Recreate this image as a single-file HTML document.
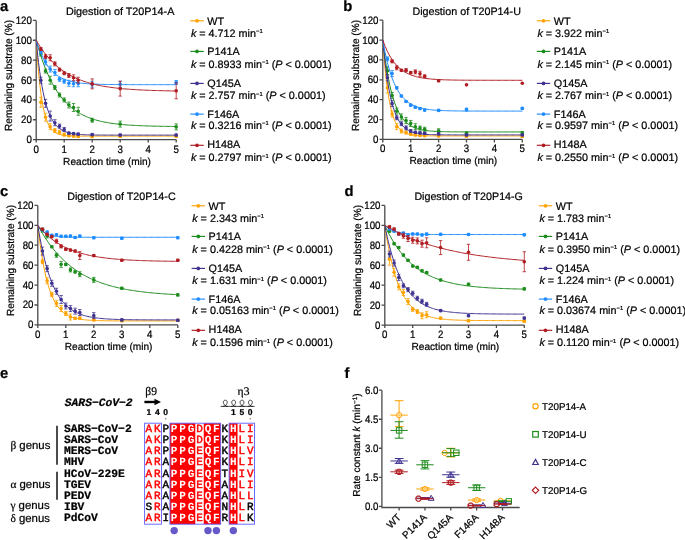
<!DOCTYPE html>
<html><head><meta charset="utf-8"><title>Figure</title>
<style>html,body{margin:0;padding:0;background:#fff;}svg{display:block;filter:blur(0.3px);}</style></head>
<body><svg width="685" height="540" viewBox="0 0 685 540" text-rendering="geometricPrecision">
<rect width="685" height="540" fill="#fff"/>
<text x="0" y="10.5" font-family='"Liberation Sans", sans-serif' font-size="14.8" text-anchor="start" font-weight="bold" font-style="normal" fill="#000" stroke="#000" stroke-width="0.22" >a</text>
<text x="65.9" y="14.9" font-family='"Liberation Sans", sans-serif' font-size="10.8" text-anchor="start" font-weight="normal" font-style="normal" fill="#000" stroke="#000" stroke-width="0.22" textLength="108.5" lengthAdjust="spacingAndGlyphs">Digestion of T20P14-A</text>
<path d="M36.2 20.4V139.6H176.2" fill="none" stroke="#4a4a4a" stroke-width="1.3"/>
<path d="M32.9 139.6H36.2M32.9 119.73H36.2M32.9 99.87H36.2M32.9 80H36.2M32.9 60.14H36.2M32.9 40.27H36.2M32.9 20.4H36.2M36.2 139.6V142.6M64.2 139.6V142.6M92.2 139.6V142.6M120.2 139.6V142.6M148.2 139.6V142.6M176.2 139.6V142.6" fill="none" stroke="#4a4a4a" stroke-width="1.3"/>
<text x="0" y="0" font-family='"Liberation Sans", sans-serif' font-size="10" text-anchor="end" font-weight="normal" font-style="normal" fill="#000" stroke="#000" stroke-width="0.22" transform="translate(31.9 143.1) scale(0.97 1.08)">0</text>
<text x="0" y="0" font-family='"Liberation Sans", sans-serif' font-size="10" text-anchor="end" font-weight="normal" font-style="normal" fill="#000" stroke="#000" stroke-width="0.22" transform="translate(31.9 123.23) scale(0.97 1.08)">20</text>
<text x="0" y="0" font-family='"Liberation Sans", sans-serif' font-size="10" text-anchor="end" font-weight="normal" font-style="normal" fill="#000" stroke="#000" stroke-width="0.22" transform="translate(31.9 103.37) scale(0.97 1.08)">40</text>
<text x="0" y="0" font-family='"Liberation Sans", sans-serif' font-size="10" text-anchor="end" font-weight="normal" font-style="normal" fill="#000" stroke="#000" stroke-width="0.22" transform="translate(31.9 83.5) scale(0.97 1.08)">60</text>
<text x="0" y="0" font-family='"Liberation Sans", sans-serif' font-size="10" text-anchor="end" font-weight="normal" font-style="normal" fill="#000" stroke="#000" stroke-width="0.22" transform="translate(31.9 63.64) scale(0.97 1.08)">80</text>
<text x="0" y="0" font-family='"Liberation Sans", sans-serif' font-size="10" text-anchor="end" font-weight="normal" font-style="normal" fill="#000" stroke="#000" stroke-width="0.22" transform="translate(31.9 43.77) scale(0.97 1.08)">100</text>
<text x="0" y="0" font-family='"Liberation Sans", sans-serif' font-size="10" text-anchor="end" font-weight="normal" font-style="normal" fill="#000" stroke="#000" stroke-width="0.22" transform="translate(31.9 23.9) scale(0.97 1.08)">120</text>
<text x="0" y="0" font-family='"Liberation Sans", sans-serif' font-size="10" text-anchor="middle" font-weight="normal" font-style="normal" fill="#000" stroke="#000" stroke-width="0.22" transform="translate(36.2 152.6) scale(0.97 1.08)">0</text>
<text x="0" y="0" font-family='"Liberation Sans", sans-serif' font-size="10" text-anchor="middle" font-weight="normal" font-style="normal" fill="#000" stroke="#000" stroke-width="0.22" transform="translate(64.2 152.6) scale(0.97 1.08)">1</text>
<text x="0" y="0" font-family='"Liberation Sans", sans-serif' font-size="10" text-anchor="middle" font-weight="normal" font-style="normal" fill="#000" stroke="#000" stroke-width="0.22" transform="translate(92.2 152.6) scale(0.97 1.08)">2</text>
<text x="0" y="0" font-family='"Liberation Sans", sans-serif' font-size="10" text-anchor="middle" font-weight="normal" font-style="normal" fill="#000" stroke="#000" stroke-width="0.22" transform="translate(120.2 152.6) scale(0.97 1.08)">3</text>
<text x="0" y="0" font-family='"Liberation Sans", sans-serif' font-size="10" text-anchor="middle" font-weight="normal" font-style="normal" fill="#000" stroke="#000" stroke-width="0.22" transform="translate(148.2 152.6) scale(0.97 1.08)">4</text>
<text x="0" y="0" font-family='"Liberation Sans", sans-serif' font-size="10" text-anchor="middle" font-weight="normal" font-style="normal" fill="#000" stroke="#000" stroke-width="0.22" transform="translate(176.2 152.6) scale(0.97 1.08)">5</text>
<text x="107" y="164.6" font-family='"Liberation Sans", sans-serif' font-size="10.3" text-anchor="middle" font-weight="normal" font-style="normal" fill="#000" stroke="#000" stroke-width="0.22" textLength="87.8" lengthAdjust="spacingAndGlyphs">Reaction time (min)</text>
<text x="12.3" y="75.5" font-family='"Liberation Sans", sans-serif' font-size="10.3" text-anchor="middle" font-weight="normal" font-style="normal" fill="#000" stroke="#000" stroke-width="0.22" transform="rotate(-90 12.3 75.5)" textLength="111" lengthAdjust="spacingAndGlyphs">Remaining substrate (%)</text>
<polyline points="36.2,40.27 37.37,57.65 38.53,71.87 39.7,83.52 40.87,93.05 42.03,100.86 43.2,107.25 44.37,112.49 45.53,116.77 46.7,120.28 47.87,123.15 49.03,125.5 50.2,127.43 51.37,129 52.53,130.29 53.7,131.35 54.87,132.22 56.03,132.92 57.2,133.5 58.37,133.98 59.53,134.37 60.7,134.69 61.87,134.95 63.03,135.16 64.2,135.33 65.37,135.48 66.53,135.59 67.7,135.69 68.87,135.77 70.03,135.83 71.2,135.89 72.37,135.93 73.53,135.96 74.7,135.99 75.87,136.02 77.03,136.04 78.2,136.05 79.37,136.06 80.53,136.08 81.7,136.08 82.87,136.09 84.03,136.1 85.2,136.1 86.37,136.11 87.53,136.11 88.7,136.11 89.87,136.11 91.03,136.12 92.2,136.12 93.37,136.12 94.53,136.12 95.7,136.12 96.87,136.12 98.03,136.12 99.2,136.12 100.37,136.12 101.53,136.12 102.7,136.12 103.87,136.12 105.03,136.12 106.2,136.12 107.37,136.12 108.53,136.12 109.7,136.12 110.87,136.12 112.03,136.12 113.2,136.12 114.37,136.12 115.53,136.12 116.7,136.12 117.87,136.12 119.03,136.12 120.2,136.12 121.37,136.12 122.53,136.12 123.7,136.12 124.87,136.12 126.03,136.12 127.2,136.12 128.37,136.12 129.53,136.12 130.7,136.12 131.87,136.12 133.03,136.12 134.2,136.12 135.37,136.12 136.53,136.12 137.7,136.12 138.87,136.12 140.03,136.12 141.2,136.12 142.37,136.12 143.53,136.12 144.7,136.12 145.87,136.12 147.03,136.12 148.2,136.12 149.37,136.12 150.53,136.12 151.7,136.12 152.87,136.12 154.03,136.12 155.2,136.12 156.37,136.12 157.53,136.12 158.7,136.12 159.87,136.12 161.03,136.12 162.2,136.12 163.37,136.12 164.53,136.12 165.7,136.12 166.87,136.12 168.03,136.12 169.2,136.12 170.37,136.12 171.53,136.12 172.7,136.12 173.87,136.12 175.03,136.12 176.2,136.12" fill="none" stroke="#FFA200" stroke-width="1"/>
<path d="M40.87 97.29V107.22M39.17 97.29H42.57M39.17 107.22H42.57M45.53 113.28V121.22M43.83 113.28H47.23M43.83 121.22H47.23M50.2 123.71V129.67M48.5 123.71H51.9M48.5 129.67H51.9M54.87 128.57V132.55M53.17 128.57H56.57M53.17 132.55H56.57M59.53 130.26V134.24M57.83 130.26H61.23M57.83 134.24H61.23M64.2 133.14V136.12M62.5 133.14H65.9M62.5 136.12H65.9M68.87 134.63V136.62M67.17 134.63H70.57M67.17 136.62H70.57M73.53 135.13V137.12M71.83 135.13H75.23M71.83 137.12H75.23M78.2 135.43V137.41M76.5 135.43H79.9M76.5 137.41H79.9M92.2 135.63V137.61M90.5 135.63H93.9M90.5 137.61H93.9M120.2 135.33V137.32M118.5 135.33H121.9M118.5 137.32H121.9M176.2 135.33V137.32M174.5 135.33H177.9M174.5 137.32H177.9" fill="none" stroke="#FFA200" stroke-width="0.8"/>
<g fill="#FFA200"><circle cx="40.87" cy="102.25" r="1.8"/><circle cx="45.53" cy="117.25" r="1.8"/><circle cx="50.2" cy="126.69" r="1.8"/><circle cx="54.87" cy="130.56" r="1.8"/><circle cx="59.53" cy="132.25" r="1.8"/><circle cx="64.2" cy="134.63" r="1.8"/><circle cx="68.87" cy="135.63" r="1.8"/><circle cx="73.53" cy="136.12" r="1.8"/><circle cx="78.2" cy="136.42" r="1.8"/><circle cx="92.2" cy="136.62" r="1.8"/><circle cx="120.2" cy="136.32" r="1.8"/><circle cx="176.2" cy="136.32" r="1.8"/></g>
<polyline points="36.2,40.27 37.37,44.48 38.53,48.49 39.7,52.31 40.87,55.93 42.03,59.39 43.2,62.67 44.37,65.79 45.53,68.76 46.7,71.59 47.87,74.27 49.03,76.83 50.2,79.26 51.37,81.57 52.53,83.77 53.7,85.87 54.87,87.86 56.03,89.75 57.2,91.55 58.37,93.27 59.53,94.9 60.7,96.45 61.87,97.92 63.03,99.32 64.2,100.66 65.37,101.93 66.53,103.14 67.7,104.28 68.87,105.38 70.03,106.42 71.2,107.4 72.37,108.35 73.53,109.24 74.7,110.09 75.87,110.9 77.03,111.67 78.2,112.4 79.37,113.1 80.53,113.76 81.7,114.39 82.87,114.99 84.03,115.56 85.2,116.1 86.37,116.62 87.53,117.11 88.7,117.58 89.87,118.02 91.03,118.45 92.2,118.85 93.37,119.23 94.53,119.59 95.7,119.94 96.87,120.27 98.03,120.58 99.2,120.88 100.37,121.16 101.53,121.43 102.7,121.69 103.87,121.93 105.03,122.16 106.2,122.38 107.37,122.59 108.53,122.79 109.7,122.98 110.87,123.16 112.03,123.34 113.2,123.5 114.37,123.66 115.53,123.8 116.7,123.94 117.87,124.08 119.03,124.2 120.2,124.33 121.37,124.44 122.53,124.55 123.7,124.65 124.87,124.75 126.03,124.85 127.2,124.94 128.37,125.02 129.53,125.1 130.7,125.18 131.87,125.25 133.03,125.32 134.2,125.39 135.37,125.45 136.53,125.51 137.7,125.57 138.87,125.63 140.03,125.68 141.2,125.73 142.37,125.77 143.53,125.82 144.7,125.86 145.87,125.9 147.03,125.94 148.2,125.98 149.37,126.01 150.53,126.04 151.7,126.07 152.87,126.1 154.03,126.13 155.2,126.16 156.37,126.19 157.53,126.21 158.7,126.23 159.87,126.26 161.03,126.28 162.2,126.3 163.37,126.32 164.53,126.33 165.7,126.35 166.87,126.37 168.03,126.38 169.2,126.4 170.37,126.41 171.53,126.43 172.7,126.44 173.87,126.45 175.03,126.46 176.2,126.47" fill="none" stroke="#1C8C1C" stroke-width="1"/>
<path d="M40.87 52.09V56.06M39.17 52.09H42.57M39.17 56.06H42.57M45.53 69.08V73.05M43.83 69.08H47.23M43.83 73.05H47.23M50.2 76.23V84.17M48.5 76.23H51.9M48.5 84.17H51.9M54.87 85.56V89.54M53.17 85.56H56.57M53.17 89.54H56.57M59.53 93.01V96.99M57.83 93.01H61.23M57.83 96.99H61.23M64.2 97.98V101.95M62.5 97.98H65.9M62.5 101.95H65.9M68.87 102.05V108.01M67.17 102.05H70.57M67.17 108.01H70.57M73.53 103.54V111.49M71.83 103.54H75.23M71.83 111.49H75.23M78.2 107.32V115.26M76.5 107.32H79.9M76.5 115.26H79.9M92.2 118.24V122.22M90.5 118.24H93.9M90.5 122.22H93.9M120.2 121.12V127.08M118.5 121.12H121.9M118.5 127.08H121.9M176.2 123.91V129.87M174.5 123.91H177.9M174.5 129.87H177.9" fill="none" stroke="#1C8C1C" stroke-width="0.8"/>
<g fill="#1C8C1C"><circle cx="40.87" cy="54.08" r="1.8"/><circle cx="45.53" cy="71.06" r="1.8"/><circle cx="50.2" cy="80.2" r="1.8"/><circle cx="54.87" cy="87.55" r="1.8"/><circle cx="59.53" cy="95" r="1.8"/><circle cx="64.2" cy="99.97" r="1.8"/><circle cx="68.87" cy="105.03" r="1.8"/><circle cx="73.53" cy="107.52" r="1.8"/><circle cx="78.2" cy="111.29" r="1.8"/><circle cx="92.2" cy="120.23" r="1.8"/><circle cx="120.2" cy="124.1" r="1.8"/><circle cx="176.2" cy="126.89" r="1.8"/></g>
<polyline points="36.2,40.27 37.37,52.11 38.53,62.47 39.7,71.54 40.87,79.48 42.03,86.43 43.2,92.51 44.37,97.83 45.53,102.48 46.7,106.56 47.87,110.13 49.03,113.25 50.2,115.98 51.37,118.37 52.53,120.46 53.7,122.29 54.87,123.89 56.03,125.3 57.2,126.52 58.37,127.6 59.53,128.54 60.7,129.36 61.87,130.08 63.03,130.71 64.2,131.26 65.37,131.75 66.53,132.17 67.7,132.54 68.87,132.86 70.03,133.14 71.2,133.39 72.37,133.61 73.53,133.8 74.7,133.97 75.87,134.11 77.03,134.24 78.2,134.35 79.37,134.45 80.53,134.53 81.7,134.61 82.87,134.67 84.03,134.73 85.2,134.78 86.37,134.82 87.53,134.86 88.7,134.9 89.87,134.92 91.03,134.95 92.2,134.97 93.37,134.99 94.53,135.01 95.7,135.02 96.87,135.04 98.03,135.05 99.2,135.06 100.37,135.07 101.53,135.08 102.7,135.08 103.87,135.09 105.03,135.09 106.2,135.1 107.37,135.1 108.53,135.11 109.7,135.11 110.87,135.11 112.03,135.11 113.2,135.12 114.37,135.12 115.53,135.12 116.7,135.12 117.87,135.12 119.03,135.12 120.2,135.12 121.37,135.12 122.53,135.13 123.7,135.13 124.87,135.13 126.03,135.13 127.2,135.13 128.37,135.13 129.53,135.13 130.7,135.13 131.87,135.13 133.03,135.13 134.2,135.13 135.37,135.13 136.53,135.13 137.7,135.13 138.87,135.13 140.03,135.13 141.2,135.13 142.37,135.13 143.53,135.13 144.7,135.13 145.87,135.13 147.03,135.13 148.2,135.13 149.37,135.13 150.53,135.13 151.7,135.13 152.87,135.13 154.03,135.13 155.2,135.13 156.37,135.13 157.53,135.13 158.7,135.13 159.87,135.13 161.03,135.13 162.2,135.13 163.37,135.13 164.53,135.13 165.7,135.13 166.87,135.13 168.03,135.13 169.2,135.13 170.37,135.13 171.53,135.13 172.7,135.13 173.87,135.13 175.03,135.13 176.2,135.13" fill="none" stroke="#3F3391" stroke-width="1"/>
<path d="M40.87 77.22V83.18M39.17 77.22H42.57M39.17 83.18H42.57M45.53 99.37V107.32M43.83 99.37H47.23M43.83 107.32H47.23M50.2 111.09V121.03M48.5 111.09H51.9M48.5 121.03H51.9M54.87 119.73V125.69M53.17 119.73H56.57M53.17 125.69H56.57M59.53 124.1V128.08M57.83 124.1H61.23M57.83 128.08H61.23M64.2 127.48V131.45M62.5 127.48H65.9M62.5 131.45H65.9M68.87 132.15V134.14M67.17 132.15H70.57M67.17 134.14H70.57M73.53 132.65V134.63M71.83 132.65H75.23M71.83 134.63H75.23M78.2 133.14V135.13M76.5 133.14H79.9M76.5 135.13H79.9M92.2 133.64V135.63M90.5 133.64H93.9M90.5 135.63H93.9M120.2 134.04V136.02M118.5 134.04H121.9M118.5 136.02H121.9M176.2 134.04V136.02M174.5 134.04H177.9M174.5 136.02H177.9" fill="none" stroke="#3F3391" stroke-width="0.8"/>
<g fill="#3F3391"><circle cx="40.87" cy="80.2" r="1.8"/><circle cx="45.53" cy="103.34" r="1.8"/><circle cx="50.2" cy="116.06" r="1.8"/><circle cx="54.87" cy="122.71" r="1.8"/><circle cx="59.53" cy="126.09" r="1.8"/><circle cx="64.2" cy="129.47" r="1.8"/><circle cx="68.87" cy="133.14" r="1.8"/><circle cx="73.53" cy="133.64" r="1.8"/><circle cx="78.2" cy="134.14" r="1.8"/><circle cx="92.2" cy="134.63" r="1.8"/><circle cx="120.2" cy="135.03" r="1.8"/><circle cx="176.2" cy="135.03" r="1.8"/></g>
<polyline points="36.2,40.27 37.37,43.99 38.53,47.4 39.7,50.52 40.87,53.38 42.03,56 43.2,58.41 44.37,60.61 45.53,62.62 46.7,64.47 47.87,66.16 49.03,67.71 50.2,69.13 51.37,70.43 52.53,71.63 53.7,72.72 54.87,73.72 56.03,74.64 57.2,75.48 58.37,76.25 59.53,76.95 60.7,77.6 61.87,78.19 63.03,78.74 64.2,79.23 65.37,79.69 66.53,80.11 67.7,80.49 68.87,80.84 70.03,81.16 71.2,81.45 72.37,81.72 73.53,81.97 74.7,82.2 75.87,82.4 77.03,82.59 78.2,82.77 79.37,82.93 80.53,83.07 81.7,83.21 82.87,83.33 84.03,83.44 85.2,83.54 86.37,83.64 87.53,83.73 88.7,83.8 89.87,83.88 91.03,83.94 92.2,84 93.37,84.06 94.53,84.11 95.7,84.16 96.87,84.2 98.03,84.24 99.2,84.28 100.37,84.31 101.53,84.34 102.7,84.37 103.87,84.39 105.03,84.42 106.2,84.44 107.37,84.46 108.53,84.47 109.7,84.49 110.87,84.51 112.03,84.52 113.2,84.53 114.37,84.54 115.53,84.55 116.7,84.56 117.87,84.57 119.03,84.58 120.2,84.59 121.37,84.6 122.53,84.6 123.7,84.61 124.87,84.61 126.03,84.62 127.2,84.62 128.37,84.63 129.53,84.63 130.7,84.63 131.87,84.64 133.03,84.64 134.2,84.64 135.37,84.64 136.53,84.65 137.7,84.65 138.87,84.65 140.03,84.65 141.2,84.65 142.37,84.66 143.53,84.66 144.7,84.66 145.87,84.66 147.03,84.66 148.2,84.66 149.37,84.66 150.53,84.66 151.7,84.66 152.87,84.66 154.03,84.66 155.2,84.66 156.37,84.67 157.53,84.67 158.7,84.67 159.87,84.67 161.03,84.67 162.2,84.67 163.37,84.67 164.53,84.67 165.7,84.67 166.87,84.67 168.03,84.67 169.2,84.67 170.37,84.67 171.53,84.67 172.7,84.67 173.87,84.67 175.03,84.67 176.2,84.67" fill="none" stroke="#1E8CFF" stroke-width="1"/>
<path d="M40.87 49.61V53.58M39.17 49.61H42.57M39.17 53.58H42.57M45.53 58.94V64.9M43.83 58.94H47.23M43.83 64.9H47.23M50.2 66.1V72.06M48.5 66.1H51.9M48.5 72.06H51.9M54.87 69.47V75.43M53.17 69.47H56.57M53.17 75.43H56.57M59.53 77.32V81.29M57.83 77.32H61.23M57.83 81.29H61.23M64.2 79.31V83.28M62.5 79.31H65.9M62.5 83.28H65.9M68.87 80.3V86.26M67.17 80.3H70.57M67.17 86.26H70.57M73.53 80.8V86.76M71.83 80.8H75.23M71.83 86.76H75.23M78.2 80.8V86.76M76.5 80.8H79.9M76.5 86.76H79.9M92.2 81.29V87.25M90.5 81.29H93.9M90.5 87.25H93.9M120.2 81.29V87.25M118.5 81.29H121.9M118.5 87.25H121.9M176.2 80.5V84.47M174.5 80.5H177.9M174.5 84.47H177.9" fill="none" stroke="#1E8CFF" stroke-width="0.8"/>
<g fill="#1E8CFF"><circle cx="40.87" cy="51.59" r="1.8"/><circle cx="45.53" cy="61.92" r="1.8"/><circle cx="50.2" cy="69.08" r="1.8"/><circle cx="54.87" cy="72.45" r="1.8"/><circle cx="59.53" cy="79.31" r="1.8"/><circle cx="64.2" cy="81.29" r="1.8"/><circle cx="68.87" cy="83.28" r="1.8"/><circle cx="73.53" cy="83.78" r="1.8"/><circle cx="78.2" cy="83.78" r="1.8"/><circle cx="92.2" cy="84.27" r="1.8"/><circle cx="120.2" cy="84.27" r="1.8"/><circle cx="176.2" cy="82.49" r="1.8"/></g>
<polyline points="36.2,40.27 37.37,42.26 38.53,44.16 39.7,46 40.87,47.76 42.03,49.46 43.2,51.08 44.37,52.65 45.53,54.15 46.7,55.6 47.87,56.99 49.03,58.33 50.2,59.61 51.37,60.85 52.53,62.03 53.7,63.17 54.87,64.27 56.03,65.32 57.2,66.34 58.37,67.31 59.53,68.25 60.7,69.15 61.87,70.01 63.03,70.84 64.2,71.64 65.37,72.41 66.53,73.15 67.7,73.86 68.87,74.54 70.03,75.19 71.2,75.82 72.37,76.43 73.53,77.01 74.7,77.57 75.87,78.11 77.03,78.62 78.2,79.12 79.37,79.6 80.53,80.06 81.7,80.5 82.87,80.92 84.03,81.33 85.2,81.72 86.37,82.1 87.53,82.46 88.7,82.81 89.87,83.14 91.03,83.46 92.2,83.77 93.37,84.07 94.53,84.36 95.7,84.63 96.87,84.89 98.03,85.15 99.2,85.39 100.37,85.63 101.53,85.85 102.7,86.07 103.87,86.27 105.03,86.47 106.2,86.67 107.37,86.85 108.53,87.03 109.7,87.2 110.87,87.36 112.03,87.52 113.2,87.67 114.37,87.82 115.53,87.96 116.7,88.09 117.87,88.22 119.03,88.35 120.2,88.47 121.37,88.58 122.53,88.69 123.7,88.8 124.87,88.9 126.03,89 127.2,89.09 128.37,89.18 129.53,89.27 130.7,89.35 131.87,89.43 133.03,89.51 134.2,89.58 135.37,89.66 136.53,89.72 137.7,89.79 138.87,89.85 140.03,89.92 141.2,89.97 142.37,90.03 143.53,90.08 144.7,90.14 145.87,90.19 147.03,90.23 148.2,90.28 149.37,90.32 150.53,90.37 151.7,90.41 152.87,90.45 154.03,90.49 155.2,90.52 156.37,90.56 157.53,90.59 158.7,90.62 159.87,90.65 161.03,90.68 162.2,90.71 163.37,90.74 164.53,90.77 165.7,90.79 166.87,90.82 168.03,90.84 169.2,90.86 170.37,90.89 171.53,90.91 172.7,90.93 173.87,90.95 175.03,90.96 176.2,90.98" fill="none" stroke="#B01C22" stroke-width="1"/>
<path d="M40.87 47.62V50.6M39.17 47.62H42.57M39.17 50.6H42.57M45.53 54.67V58.65M43.83 54.67H47.23M43.83 58.65H47.23M50.2 54.77V60.73M48.5 54.77H51.9M48.5 60.73H51.9M54.87 61.82V65.8M53.17 61.82H56.57M53.17 65.8H56.57M59.53 68.18V71.16M57.83 68.18H61.23M57.83 71.16H61.23M64.2 71.76V74.74M62.5 71.76H65.9M62.5 74.74H65.9M68.87 73.55V77.52M67.17 73.55H70.57M67.17 77.52H70.57M73.53 74.84V80.8M71.83 74.84H75.23M71.83 80.8H75.23M78.2 77.22V83.18M76.5 77.22H79.9M76.5 83.18H79.9M92.2 78.91V88.84M90.5 78.91H93.9M90.5 88.84H93.9M120.2 81.19V96.09M118.5 81.19H121.9M118.5 96.09H121.9M176.2 82.88V98.78M174.5 82.88H177.9M174.5 98.78H177.9" fill="none" stroke="#B01C22" stroke-width="0.8"/>
<g fill="#B01C22"><circle cx="40.87" cy="49.11" r="1.8"/><circle cx="45.53" cy="56.66" r="1.8"/><circle cx="50.2" cy="57.75" r="1.8"/><circle cx="54.87" cy="63.81" r="1.8"/><circle cx="59.53" cy="69.67" r="1.8"/><circle cx="64.2" cy="73.25" r="1.8"/><circle cx="68.87" cy="75.53" r="1.8"/><circle cx="73.53" cy="77.82" r="1.8"/><circle cx="78.2" cy="80.2" r="1.8"/><circle cx="92.2" cy="83.88" r="1.8"/><circle cx="120.2" cy="88.64" r="1.8"/><circle cx="176.2" cy="90.83" r="1.8"/></g>
<path d="M190.3 20.8H203.7" stroke="#FFA200" stroke-width="1.15"/>
<circle cx="197" cy="20.8" r="1.85" fill="#FFA200"/>
<text x="207.3" y="24.6" font-family='"Liberation Sans", sans-serif' font-size="10.8" text-anchor="start" font-weight="normal" font-style="normal" fill="#000" stroke="#000" stroke-width="0.22" >WT</text>
<text x="190.9" y="36.6" font-family='"Liberation Sans", sans-serif' font-size="10.8" text-anchor="start" font-weight="normal" font-style="normal" fill="#000" stroke="#000" stroke-width="0.22" ><tspan font-style="italic">k</tspan> = 4.712 min<tspan font-size="5.8" dy="-3.7">−1</tspan></text>
<path d="M190.3 51.4H203.7" stroke="#1C8C1C" stroke-width="1.15"/>
<circle cx="197" cy="51.4" r="1.85" fill="#1C8C1C"/>
<text x="207.3" y="54.8" font-family='"Liberation Sans", sans-serif' font-size="10.8" text-anchor="start" font-weight="normal" font-style="normal" fill="#000" stroke="#000" stroke-width="0.22" >P141A</text>
<text x="190.9" y="67.6" font-family='"Liberation Sans", sans-serif' font-size="10.8" text-anchor="start" font-weight="normal" font-style="normal" fill="#000" stroke="#000" stroke-width="0.22" ><tspan font-style="italic">k</tspan> = 0.8933 min<tspan font-size="5.8" dy="-3.7">−1</tspan><tspan dy="3.7" dx="3.1">(</tspan><tspan font-style="italic">P</tspan> &lt; 0.0001)</text>
<path d="M190.3 83.4H203.7" stroke="#3F3391" stroke-width="1.15"/>
<circle cx="197" cy="83.4" r="1.85" fill="#3F3391"/>
<text x="207.3" y="86.7" font-family='"Liberation Sans", sans-serif' font-size="10.8" text-anchor="start" font-weight="normal" font-style="normal" fill="#000" stroke="#000" stroke-width="0.22" >Q145A</text>
<text x="190.9" y="99.4" font-family='"Liberation Sans", sans-serif' font-size="10.8" text-anchor="start" font-weight="normal" font-style="normal" fill="#000" stroke="#000" stroke-width="0.22" ><tspan font-style="italic">k</tspan> = 2.757 min<tspan font-size="5.8" dy="-3.7">−1</tspan><tspan dy="3.7" dx="3.1">(</tspan><tspan font-style="italic">P</tspan> &lt; 0.0001)</text>
<path d="M190.3 114.1H203.7" stroke="#1E8CFF" stroke-width="1.15"/>
<circle cx="197" cy="114.1" r="1.85" fill="#1E8CFF"/>
<text x="207.3" y="117.8" font-family='"Liberation Sans", sans-serif' font-size="10.8" text-anchor="start" font-weight="normal" font-style="normal" fill="#000" stroke="#000" stroke-width="0.22" >F146A</text>
<text x="190.9" y="128.7" font-family='"Liberation Sans", sans-serif' font-size="10.8" text-anchor="start" font-weight="normal" font-style="normal" fill="#000" stroke="#000" stroke-width="0.22" ><tspan font-style="italic">k</tspan> = 0.3216 min<tspan font-size="5.8" dy="-3.7">−1</tspan><tspan dy="3.7" dx="3.1">(</tspan><tspan font-style="italic">P</tspan> &lt; 0.0001)</text>
<path d="M190.3 145.3H203.7" stroke="#B01C22" stroke-width="1.15"/>
<circle cx="197" cy="145.3" r="1.85" fill="#B01C22"/>
<text x="207.3" y="147.9" font-family='"Liberation Sans", sans-serif' font-size="10.8" text-anchor="start" font-weight="normal" font-style="normal" fill="#000" stroke="#000" stroke-width="0.22" >H148A</text>
<text x="190.9" y="161.2" font-family='"Liberation Sans", sans-serif' font-size="10.8" text-anchor="start" font-weight="normal" font-style="normal" fill="#000" stroke="#000" stroke-width="0.22" ><tspan font-style="italic">k</tspan> = 0.2797 min<tspan font-size="5.8" dy="-3.7">−1</tspan><tspan dy="3.7" dx="3.1">(</tspan><tspan font-style="italic">P</tspan> &lt; 0.0001)</text>
<text x="343.2" y="10.6" font-family='"Liberation Sans", sans-serif' font-size="14.8" text-anchor="start" font-weight="bold" font-style="normal" fill="#000" stroke="#000" stroke-width="0.22" >b</text>
<text x="412.4" y="14.9" font-family='"Liberation Sans", sans-serif' font-size="10.8" text-anchor="start" font-weight="normal" font-style="normal" fill="#000" stroke="#000" stroke-width="0.22" textLength="108.5" lengthAdjust="spacingAndGlyphs">Digestion of T20P14-U</text>
<path d="M382.8 20.2V139.4H522.3" fill="none" stroke="#4a4a4a" stroke-width="1.3"/>
<path d="M379.5 139.4H382.8M379.5 119.53H382.8M379.5 99.67H382.8M379.5 79.8H382.8M379.5 59.94H382.8M379.5 40.07H382.8M379.5 20.2H382.8M382.8 139.4V142.4M410.7 139.4V142.4M438.6 139.4V142.4M466.5 139.4V142.4M494.4 139.4V142.4M522.3 139.4V142.4" fill="none" stroke="#4a4a4a" stroke-width="1.3"/>
<text x="0" y="0" font-family='"Liberation Sans", sans-serif' font-size="10" text-anchor="end" font-weight="normal" font-style="normal" fill="#000" stroke="#000" stroke-width="0.22" transform="translate(378.5 142.9) scale(0.97 1.08)">0</text>
<text x="0" y="0" font-family='"Liberation Sans", sans-serif' font-size="10" text-anchor="end" font-weight="normal" font-style="normal" fill="#000" stroke="#000" stroke-width="0.22" transform="translate(378.5 123.03) scale(0.97 1.08)">20</text>
<text x="0" y="0" font-family='"Liberation Sans", sans-serif' font-size="10" text-anchor="end" font-weight="normal" font-style="normal" fill="#000" stroke="#000" stroke-width="0.22" transform="translate(378.5 103.17) scale(0.97 1.08)">40</text>
<text x="0" y="0" font-family='"Liberation Sans", sans-serif' font-size="10" text-anchor="end" font-weight="normal" font-style="normal" fill="#000" stroke="#000" stroke-width="0.22" transform="translate(378.5 83.3) scale(0.97 1.08)">60</text>
<text x="0" y="0" font-family='"Liberation Sans", sans-serif' font-size="10" text-anchor="end" font-weight="normal" font-style="normal" fill="#000" stroke="#000" stroke-width="0.22" transform="translate(378.5 63.44) scale(0.97 1.08)">80</text>
<text x="0" y="0" font-family='"Liberation Sans", sans-serif' font-size="10" text-anchor="end" font-weight="normal" font-style="normal" fill="#000" stroke="#000" stroke-width="0.22" transform="translate(378.5 43.57) scale(0.97 1.08)">100</text>
<text x="0" y="0" font-family='"Liberation Sans", sans-serif' font-size="10" text-anchor="end" font-weight="normal" font-style="normal" fill="#000" stroke="#000" stroke-width="0.22" transform="translate(378.5 23.7) scale(0.97 1.08)">120</text>
<text x="0" y="0" font-family='"Liberation Sans", sans-serif' font-size="10" text-anchor="middle" font-weight="normal" font-style="normal" fill="#000" stroke="#000" stroke-width="0.22" transform="translate(382.8 152.4) scale(0.97 1.08)">0</text>
<text x="0" y="0" font-family='"Liberation Sans", sans-serif' font-size="10" text-anchor="middle" font-weight="normal" font-style="normal" fill="#000" stroke="#000" stroke-width="0.22" transform="translate(410.7 152.4) scale(0.97 1.08)">1</text>
<text x="0" y="0" font-family='"Liberation Sans", sans-serif' font-size="10" text-anchor="middle" font-weight="normal" font-style="normal" fill="#000" stroke="#000" stroke-width="0.22" transform="translate(438.6 152.4) scale(0.97 1.08)">2</text>
<text x="0" y="0" font-family='"Liberation Sans", sans-serif' font-size="10" text-anchor="middle" font-weight="normal" font-style="normal" fill="#000" stroke="#000" stroke-width="0.22" transform="translate(466.5 152.4) scale(0.97 1.08)">3</text>
<text x="0" y="0" font-family='"Liberation Sans", sans-serif' font-size="10" text-anchor="middle" font-weight="normal" font-style="normal" fill="#000" stroke="#000" stroke-width="0.22" transform="translate(494.4 152.4) scale(0.97 1.08)">4</text>
<text x="0" y="0" font-family='"Liberation Sans", sans-serif' font-size="10" text-anchor="middle" font-weight="normal" font-style="normal" fill="#000" stroke="#000" stroke-width="0.22" transform="translate(522.3 152.4) scale(0.97 1.08)">5</text>
<text x="453.35" y="164.4" font-family='"Liberation Sans", sans-serif' font-size="10.3" text-anchor="middle" font-weight="normal" font-style="normal" fill="#000" stroke="#000" stroke-width="0.22" textLength="87.8" lengthAdjust="spacingAndGlyphs">Reaction time (min)</text>
<text x="358.8" y="75.5" font-family='"Liberation Sans", sans-serif' font-size="10.3" text-anchor="middle" font-weight="normal" font-style="normal" fill="#000" stroke="#000" stroke-width="0.22" transform="rotate(-90 358.8 75.5)" textLength="111" lengthAdjust="spacingAndGlyphs">Remaining substrate (%)</text>
<polyline points="382.8,40.07 383.96,55.79 385.12,68.94 386.29,79.93 387.45,89.11 388.61,96.79 389.78,103.21 390.94,108.58 392.1,113.06 393.26,116.81 394.43,119.95 395.59,122.57 396.75,124.76 397.91,126.59 399.07,128.12 400.24,129.4 401.4,130.47 402.56,131.36 403.73,132.11 404.89,132.74 406.05,133.26 407.21,133.7 408.38,134.06 409.54,134.37 410.7,134.62 411.86,134.84 413.03,135.01 414.19,135.16 415.35,135.29 416.51,135.39 417.68,135.48 418.84,135.55 420,135.61 421.16,135.66 422.32,135.71 423.49,135.74 424.65,135.77 425.81,135.8 426.98,135.82 428.14,135.83 429.3,135.85 430.46,135.86 431.62,135.87 432.79,135.88 433.95,135.89 435.11,135.89 436.28,135.9 437.44,135.9 438.6,135.91 439.76,135.91 440.93,135.91 442.09,135.91 443.25,135.91 444.41,135.92 445.57,135.92 446.74,135.92 447.9,135.92 449.06,135.92 450.23,135.92 451.39,135.92 452.55,135.92 453.71,135.92 454.88,135.92 456.04,135.92 457.2,135.92 458.36,135.92 459.52,135.92 460.69,135.92 461.85,135.92 463.01,135.92 464.18,135.92 465.34,135.92 466.5,135.92 467.66,135.92 468.83,135.92 469.99,135.92 471.15,135.92 472.31,135.92 473.48,135.92 474.64,135.92 475.8,135.92 476.96,135.92 478.12,135.92 479.29,135.92 480.45,135.92 481.61,135.92 482.77,135.92 483.94,135.92 485.1,135.92 486.26,135.92 487.43,135.92 488.59,135.92 489.75,135.92 490.91,135.92 492.07,135.92 493.24,135.92 494.4,135.92 495.56,135.92 496.73,135.92 497.89,135.92 499.05,135.92 500.21,135.92 501.38,135.92 502.54,135.92 503.7,135.92 504.86,135.92 506.03,135.92 507.19,135.92 508.35,135.92 509.51,135.92 510.68,135.92 511.84,135.92 513,135.92 514.16,135.92 515.33,135.92 516.49,135.92 517.65,135.92 518.81,135.92 519.98,135.92 521.14,135.92 522.3,135.92" fill="none" stroke="#FFA200" stroke-width="1"/>
<path d="M387.45 83.08V93.01M385.75 83.08H389.15M385.75 93.01H389.15M392.1 111.09V117.05M390.4 111.09H393.8M390.4 117.05H393.8M396.75 123.71V129.67M395.05 123.71H398.45M395.05 129.67H398.45M401.4 129.07V133.04M399.7 129.07H403.1M399.7 133.04H403.1M406.05 131.06V134.04M404.35 131.06H407.75M404.35 134.04H407.75M410.7 133.14V135.13M409 133.14H412.4M409 135.13H412.4M415.35 133.94V135.92M413.65 133.94H417.05M413.65 135.92H417.05M420 134.43V136.42M418.3 134.43H421.7M418.3 136.42H421.7M424.65 134.63V136.62M422.95 134.63H426.35M422.95 136.62H426.35M438.6 134.93V136.92M436.9 134.93H440.3M436.9 136.92H440.3M466.5 135.33V137.31M464.8 135.33H468.2M464.8 137.31H468.2M522.3 135.43V137.41M520.6 135.43H524M520.6 137.41H524" fill="none" stroke="#FFA200" stroke-width="0.8"/>
<g fill="#FFA200"><circle cx="387.45" cy="88.05" r="1.8"/><circle cx="392.1" cy="114.07" r="1.8"/><circle cx="396.75" cy="126.69" r="1.8"/><circle cx="401.4" cy="131.06" r="1.8"/><circle cx="406.05" cy="132.55" r="1.8"/><circle cx="410.7" cy="134.14" r="1.8"/><circle cx="415.35" cy="134.93" r="1.8"/><circle cx="420" cy="135.43" r="1.8"/><circle cx="424.65" cy="135.63" r="1.8"/><circle cx="438.6" cy="135.92" r="1.8"/><circle cx="466.5" cy="136.32" r="1.8"/><circle cx="522.3" cy="136.42" r="1.8"/></g>
<polyline points="382.8,40.07 383.96,49.85 385.12,58.58 386.29,66.39 387.45,73.36 388.61,79.6 389.78,85.17 390.94,90.15 392.1,94.59 393.26,98.57 394.43,102.12 395.59,105.3 396.75,108.13 397.91,110.67 399.07,112.93 400.24,114.95 401.4,116.76 402.56,118.38 403.73,119.82 404.89,121.11 406.05,122.27 407.21,123.3 408.38,124.22 409.54,125.04 410.7,125.78 411.86,126.43 413.03,127.02 414.19,127.54 415.35,128.01 416.51,128.43 417.68,128.81 418.84,129.14 420,129.44 421.16,129.71 422.32,129.95 423.49,130.16 424.65,130.35 425.81,130.52 426.98,130.67 428.14,130.81 429.3,130.93 430.46,131.04 431.62,131.14 432.79,131.22 433.95,131.3 435.11,131.37 436.28,131.43 437.44,131.49 438.6,131.54 439.76,131.58 440.93,131.62 442.09,131.65 443.25,131.69 444.41,131.71 445.57,131.74 446.74,131.76 447.9,131.78 449.06,131.8 450.23,131.82 451.39,131.83 452.55,131.84 453.71,131.85 454.88,131.86 456.04,131.87 457.2,131.88 458.36,131.89 459.52,131.9 460.69,131.9 461.85,131.91 463.01,131.91 464.18,131.92 465.34,131.92 466.5,131.92 467.66,131.93 468.83,131.93 469.99,131.93 471.15,131.93 472.31,131.93 473.48,131.94 474.64,131.94 475.8,131.94 476.96,131.94 478.12,131.94 479.29,131.94 480.45,131.94 481.61,131.94 482.77,131.94 483.94,131.95 485.1,131.95 486.26,131.95 487.43,131.95 488.59,131.95 489.75,131.95 490.91,131.95 492.07,131.95 493.24,131.95 494.4,131.95 495.56,131.95 496.73,131.95 497.89,131.95 499.05,131.95 500.21,131.95 501.38,131.95 502.54,131.95 503.7,131.95 504.86,131.95 506.03,131.95 507.19,131.95 508.35,131.95 509.51,131.95 510.68,131.95 511.84,131.95 513,131.95 514.16,131.95 515.33,131.95 516.49,131.95 517.65,131.95 518.81,131.95 519.98,131.95 521.14,131.95 522.3,131.95" fill="none" stroke="#1C8C1C" stroke-width="1"/>
<path d="M387.45 66.79V74.74M385.75 66.79H389.15M385.75 74.74H389.15M392.1 92.52V98.48M390.4 92.52H393.8M390.4 98.48H393.8M396.75 108.11V114.07M395.05 108.11H398.45M395.05 114.07H398.45M401.4 113.97V119.93M399.7 113.97H403.1M399.7 119.93H403.1M406.05 117.65V123.61M404.35 117.65H407.75M404.35 123.61H407.75M410.7 120.43V126.39M409 120.43H412.4M409 126.39H412.4M415.35 123.71V129.67M413.65 123.71H417.05M413.65 129.67H417.05M420 126.09V130.06M418.3 126.09H421.7M418.3 130.06H421.7M424.65 127.28V131.25M422.95 127.28H426.35M422.95 131.25H426.35M438.6 128.77V132.74M436.9 128.77H440.3M436.9 132.74H440.3M466.5 131.85V134.83M464.8 131.85H468.2M464.8 134.83H468.2M522.3 131.55V134.53M520.6 131.55H524M520.6 134.53H524" fill="none" stroke="#1C8C1C" stroke-width="0.8"/>
<g fill="#1C8C1C"><circle cx="387.45" cy="70.76" r="1.8"/><circle cx="392.1" cy="95.5" r="1.8"/><circle cx="396.75" cy="111.09" r="1.8"/><circle cx="401.4" cy="116.95" r="1.8"/><circle cx="406.05" cy="120.63" r="1.8"/><circle cx="410.7" cy="123.41" r="1.8"/><circle cx="415.35" cy="126.69" r="1.8"/><circle cx="420" cy="128.08" r="1.8"/><circle cx="424.65" cy="129.27" r="1.8"/><circle cx="438.6" cy="130.76" r="1.8"/><circle cx="466.5" cy="133.34" r="1.8"/><circle cx="522.3" cy="133.04" r="1.8"/></g>
<polyline points="382.8,40.07 383.96,52.26 385.12,62.88 386.29,72.13 387.45,80.2 388.61,87.23 389.78,93.36 390.94,98.7 392.1,103.35 393.26,107.41 394.43,110.95 395.59,114.03 396.75,116.71 397.91,119.05 399.07,121.09 400.24,122.87 401.4,124.42 402.56,125.77 403.73,126.95 404.89,127.97 406.05,128.87 407.21,129.64 408.38,130.32 409.54,130.92 410.7,131.43 411.86,131.88 413.03,132.27 414.19,132.61 415.35,132.91 416.51,133.17 417.68,133.4 418.84,133.59 420,133.77 421.16,133.92 422.32,134.05 423.49,134.16 424.65,134.26 425.81,134.34 426.98,134.42 428.14,134.49 429.3,134.54 430.46,134.59 431.62,134.64 432.79,134.67 433.95,134.71 435.11,134.74 436.28,134.76 437.44,134.78 438.6,134.8 439.76,134.82 440.93,134.83 442.09,134.84 443.25,134.86 444.41,134.87 445.57,134.87 446.74,134.88 447.9,134.89 449.06,134.89 450.23,134.9 451.39,134.9 452.55,134.91 453.71,134.91 454.88,134.91 456.04,134.91 457.2,134.92 458.36,134.92 459.52,134.92 460.69,134.92 461.85,134.92 463.01,134.92 464.18,134.92 465.34,134.92 466.5,134.93 467.66,134.93 468.83,134.93 469.99,134.93 471.15,134.93 472.31,134.93 473.48,134.93 474.64,134.93 475.8,134.93 476.96,134.93 478.12,134.93 479.29,134.93 480.45,134.93 481.61,134.93 482.77,134.93 483.94,134.93 485.1,134.93 486.26,134.93 487.43,134.93 488.59,134.93 489.75,134.93 490.91,134.93 492.07,134.93 493.24,134.93 494.4,134.93 495.56,134.93 496.73,134.93 497.89,134.93 499.05,134.93 500.21,134.93 501.38,134.93 502.54,134.93 503.7,134.93 504.86,134.93 506.03,134.93 507.19,134.93 508.35,134.93 509.51,134.93 510.68,134.93 511.84,134.93 513,134.93 514.16,134.93 515.33,134.93 516.49,134.93 517.65,134.93 518.81,134.93 519.98,134.93 521.14,134.93 522.3,134.93" fill="none" stroke="#3F3391" stroke-width="1"/>
<path d="M387.45 74.84V80.8M385.75 74.84H389.15M385.75 80.8H389.15M392.1 100.66V106.62M390.4 100.66H393.8M390.4 106.62H393.8M396.75 115.76V119.73M395.05 115.76H398.45M395.05 119.73H398.45M401.4 121.72V125.69M399.7 121.72H403.1M399.7 125.69H403.1M406.05 125.89V129.86M404.35 125.89H407.75M404.35 129.86H407.75M410.7 129.57V132.55M409 129.57H412.4M409 132.55H412.4M415.35 131.25V133.24M413.65 131.25H417.05M413.65 133.24H417.05M420 131.85V133.84M418.3 131.85H421.7M418.3 133.84H421.7M424.65 132.35V134.33M422.95 132.35H426.35M422.95 134.33H426.35M438.6 132.84V134.83M436.9 132.84H440.3M436.9 134.83H440.3M466.5 133.94V135.92M464.8 133.94H468.2M464.8 135.92H468.2M522.3 133.94V135.92M520.6 133.94H524M520.6 135.92H524" fill="none" stroke="#3F3391" stroke-width="0.8"/>
<g fill="#3F3391"><circle cx="387.45" cy="77.82" r="1.8"/><circle cx="392.1" cy="103.64" r="1.8"/><circle cx="396.75" cy="117.75" r="1.8"/><circle cx="401.4" cy="123.71" r="1.8"/><circle cx="406.05" cy="127.88" r="1.8"/><circle cx="410.7" cy="131.06" r="1.8"/><circle cx="415.35" cy="132.25" r="1.8"/><circle cx="420" cy="132.84" r="1.8"/><circle cx="424.65" cy="133.34" r="1.8"/><circle cx="438.6" cy="133.84" r="1.8"/><circle cx="466.5" cy="134.93" r="1.8"/><circle cx="522.3" cy="134.93" r="1.8"/></g>
<polyline points="382.8,40.07 383.96,46.56 385.12,52.46 386.29,57.82 387.45,62.68 388.61,67.11 389.78,71.13 390.94,74.78 392.1,78.1 393.26,81.11 394.43,83.85 395.59,86.34 396.75,88.6 397.91,90.66 399.07,92.53 400.24,94.22 401.4,95.76 402.56,97.16 403.73,98.44 404.89,99.59 406.05,100.64 407.21,101.6 408.38,102.47 409.54,103.25 410.7,103.97 411.86,104.62 413.03,105.21 414.19,105.75 415.35,106.24 416.51,106.68 417.68,107.08 418.84,107.45 420,107.78 421.16,108.09 422.32,108.36 423.49,108.61 424.65,108.84 425.81,109.04 426.98,109.23 428.14,109.4 429.3,109.55 430.46,109.69 431.62,109.82 432.79,109.94 433.95,110.04 435.11,110.14 436.28,110.23 437.44,110.31 438.6,110.38 439.76,110.44 440.93,110.5 442.09,110.56 443.25,110.6 444.41,110.65 445.57,110.69 446.74,110.73 447.9,110.76 449.06,110.79 450.23,110.82 451.39,110.84 452.55,110.86 453.71,110.89 454.88,110.9 456.04,110.92 457.2,110.94 458.36,110.95 459.52,110.96 460.69,110.98 461.85,110.99 463.01,111 464.18,111 465.34,111.01 466.5,111.02 467.66,111.03 468.83,111.03 469.99,111.04 471.15,111.04 472.31,111.05 473.48,111.05 474.64,111.05 475.8,111.06 476.96,111.06 478.12,111.06 479.29,111.07 480.45,111.07 481.61,111.07 482.77,111.07 483.94,111.07 485.1,111.08 486.26,111.08 487.43,111.08 488.59,111.08 489.75,111.08 490.91,111.08 492.07,111.08 493.24,111.08 494.4,111.08 495.56,111.08 496.73,111.09 497.89,111.09 499.05,111.09 500.21,111.09 501.38,111.09 502.54,111.09 503.7,111.09 504.86,111.09 506.03,111.09 507.19,111.09 508.35,111.09 509.51,111.09 510.68,111.09 511.84,111.09 513,111.09 514.16,111.09 515.33,111.09 516.49,111.09 517.65,111.09 518.81,111.09 519.98,111.09 521.14,111.09 522.3,111.09" fill="none" stroke="#1E8CFF" stroke-width="1"/>
<path d="M387.45 56.86V60.83M385.75 56.86H389.15M385.75 60.83H389.15M392.1 70.56V76.52M390.4 70.56H393.8M390.4 76.52H393.8M396.75 86.85V88.84M395.05 86.85H398.45M395.05 88.84H398.45M401.4 95V96.99M399.7 95H403.1M399.7 96.99H403.1M406.05 100.46V102.45M404.35 100.46H407.75M404.35 102.45H407.75M410.7 104.14V106.12M409 104.14H412.4M409 106.12H412.4M415.35 106.32V108.31M413.65 106.32H417.05M413.65 108.31H417.05M420 107.61V109.6M418.3 107.61H421.7M418.3 109.6H421.7M424.65 109.1V111.09M422.95 109.1H426.35M422.95 111.09H426.35M438.6 109.4V111.39M436.9 109.4H440.3M436.9 111.39H440.3M466.5 108.11V111.09M464.8 108.11H468.2M464.8 111.09H468.2M522.3 107.42V109.4M520.6 107.42H524M520.6 109.4H524" fill="none" stroke="#1E8CFF" stroke-width="0.8"/>
<g fill="#1E8CFF"><circle cx="387.45" cy="58.84" r="1.8"/><circle cx="392.1" cy="73.54" r="1.8"/><circle cx="396.75" cy="87.85" r="1.8"/><circle cx="401.4" cy="95.99" r="1.8"/><circle cx="406.05" cy="101.46" r="1.8"/><circle cx="410.7" cy="105.13" r="1.8"/><circle cx="415.35" cy="107.32" r="1.8"/><circle cx="420" cy="108.61" r="1.8"/><circle cx="424.65" cy="110.1" r="1.8"/><circle cx="438.6" cy="110.4" r="1.8"/><circle cx="466.5" cy="109.6" r="1.8"/><circle cx="522.3" cy="108.41" r="1.8"/></g>
<polyline points="382.8,40.07 383.96,43.29 385.12,46.25 386.29,48.97 387.45,51.47 388.61,53.78 389.78,55.9 390.94,57.85 392.1,59.64 393.26,61.3 394.43,62.82 395.59,64.21 396.75,65.5 397.91,66.68 399.07,67.77 400.24,68.77 401.4,69.69 402.56,70.54 403.73,71.32 404.89,72.04 406.05,72.7 407.21,73.31 408.38,73.87 409.54,74.38 410.7,74.85 411.86,75.29 413.03,75.69 414.19,76.06 415.35,76.4 416.51,76.71 417.68,77 418.84,77.26 420,77.5 421.16,77.73 422.32,77.93 423.49,78.12 424.65,78.3 425.81,78.46 426.98,78.6 428.14,78.74 429.3,78.86 430.46,78.98 431.62,79.08 432.79,79.18 433.95,79.27 435.11,79.35 436.28,79.43 437.44,79.5 438.6,79.56 439.76,79.62 440.93,79.67 442.09,79.72 443.25,79.77 444.41,79.81 445.57,79.85 446.74,79.89 447.9,79.92 449.06,79.95 450.23,79.98 451.39,80 452.55,80.03 453.71,80.05 454.88,80.07 456.04,80.09 457.2,80.1 458.36,80.12 459.52,80.13 460.69,80.15 461.85,80.16 463.01,80.17 464.18,80.18 465.34,80.19 466.5,80.2 467.66,80.21 468.83,80.21 469.99,80.22 471.15,80.23 472.31,80.23 473.48,80.24 474.64,80.24 475.8,80.25 476.96,80.25 478.12,80.26 479.29,80.26 480.45,80.26 481.61,80.26 482.77,80.27 483.94,80.27 485.1,80.27 486.26,80.27 487.43,80.28 488.59,80.28 489.75,80.28 490.91,80.28 492.07,80.28 493.24,80.28 494.4,80.29 495.56,80.29 496.73,80.29 497.89,80.29 499.05,80.29 500.21,80.29 501.38,80.29 502.54,80.29 503.7,80.29 504.86,80.29 506.03,80.29 507.19,80.29 508.35,80.29 509.51,80.29 510.68,80.29 511.84,80.29 513,80.3 514.16,80.3 515.33,80.3 516.49,80.3 517.65,80.3 518.81,80.3 519.98,80.3 521.14,80.3 522.3,80.3" fill="none" stroke="#B01C22" stroke-width="1"/>
<path d="M392.1 59.84V62.82M390.4 59.84H393.8M390.4 62.82H393.8M396.75 65.8V69.77M395.05 65.8H398.45M395.05 69.77H398.45M401.4 69.37V71.36M399.7 69.37H403.1M399.7 71.36H403.1M406.05 68.68V71.66M404.35 68.68H407.75M404.35 71.66H407.75M410.7 71.66V73.64M409 71.66H412.4M409 73.64H412.4M415.35 69.87V73.84M413.65 69.87H417.05M413.65 73.84H417.05M420 71.26V76.23M418.3 71.26H421.7M418.3 76.23H421.7M424.65 74.84V77.82M422.95 74.84H426.35M422.95 77.82H426.35M438.6 79.8V81.79M436.9 79.8H440.3M436.9 81.79H440.3" fill="none" stroke="#B01C22" stroke-width="0.8"/>
<g fill="#B01C22"><circle cx="392.1" cy="61.33" r="1.8"/><circle cx="396.75" cy="67.78" r="1.8"/><circle cx="401.4" cy="70.37" r="1.8"/><circle cx="406.05" cy="70.17" r="1.8"/><circle cx="410.7" cy="72.65" r="1.8"/><circle cx="415.35" cy="71.86" r="1.8"/><circle cx="420" cy="73.74" r="1.8"/><circle cx="424.65" cy="76.33" r="1.8"/><circle cx="438.6" cy="80.8" r="1.8"/><circle cx="466.5" cy="84.87" r="1.8"/><circle cx="522.3" cy="83.18" r="1.8"/></g>
<path d="M536.8 20.8H550.2" stroke="#FFA200" stroke-width="1.15"/>
<circle cx="543.5" cy="20.8" r="1.85" fill="#FFA200"/>
<text x="553.8" y="24.6" font-family='"Liberation Sans", sans-serif' font-size="10.8" text-anchor="start" font-weight="normal" font-style="normal" fill="#000" stroke="#000" stroke-width="0.22" >WT</text>
<text x="537.4" y="36.6" font-family='"Liberation Sans", sans-serif' font-size="10.8" text-anchor="start" font-weight="normal" font-style="normal" fill="#000" stroke="#000" stroke-width="0.22" ><tspan font-style="italic">k</tspan> = 3.922 min<tspan font-size="5.8" dy="-3.7">−1</tspan></text>
<path d="M536.8 51.4H550.2" stroke="#1C8C1C" stroke-width="1.15"/>
<circle cx="543.5" cy="51.4" r="1.85" fill="#1C8C1C"/>
<text x="553.8" y="54.8" font-family='"Liberation Sans", sans-serif' font-size="10.8" text-anchor="start" font-weight="normal" font-style="normal" fill="#000" stroke="#000" stroke-width="0.22" >P141A</text>
<text x="537.4" y="67.6" font-family='"Liberation Sans", sans-serif' font-size="10.8" text-anchor="start" font-weight="normal" font-style="normal" fill="#000" stroke="#000" stroke-width="0.22" ><tspan font-style="italic">k</tspan> = 2.145 min<tspan font-size="5.8" dy="-3.7">−1</tspan><tspan dy="3.7" dx="3.1">(</tspan><tspan font-style="italic">P</tspan> &lt; 0.0001)</text>
<path d="M536.8 83.4H550.2" stroke="#3F3391" stroke-width="1.15"/>
<circle cx="543.5" cy="83.4" r="1.85" fill="#3F3391"/>
<text x="553.8" y="86.7" font-family='"Liberation Sans", sans-serif' font-size="10.8" text-anchor="start" font-weight="normal" font-style="normal" fill="#000" stroke="#000" stroke-width="0.22" >Q145A</text>
<text x="537.4" y="99.4" font-family='"Liberation Sans", sans-serif' font-size="10.8" text-anchor="start" font-weight="normal" font-style="normal" fill="#000" stroke="#000" stroke-width="0.22" ><tspan font-style="italic">k</tspan> = 2.767 min<tspan font-size="5.8" dy="-3.7">−1</tspan><tspan dy="3.7" dx="3.1">(</tspan><tspan font-style="italic">P</tspan> &lt; 0.0001)</text>
<path d="M536.8 114.1H550.2" stroke="#1E8CFF" stroke-width="1.15"/>
<circle cx="543.5" cy="114.1" r="1.85" fill="#1E8CFF"/>
<text x="553.8" y="117.8" font-family='"Liberation Sans", sans-serif' font-size="10.8" text-anchor="start" font-weight="normal" font-style="normal" fill="#000" stroke="#000" stroke-width="0.22" >F146A</text>
<text x="537.4" y="128.7" font-family='"Liberation Sans", sans-serif' font-size="10.8" text-anchor="start" font-weight="normal" font-style="normal" fill="#000" stroke="#000" stroke-width="0.22" ><tspan font-style="italic">k</tspan> = 0.9597 min<tspan font-size="5.8" dy="-3.7">−1</tspan><tspan dy="3.7" dx="3.1">(</tspan><tspan font-style="italic">P</tspan> &lt; 0.0001)</text>
<path d="M536.8 145.3H550.2" stroke="#B01C22" stroke-width="1.15"/>
<circle cx="543.5" cy="145.3" r="1.85" fill="#B01C22"/>
<text x="553.8" y="147.9" font-family='"Liberation Sans", sans-serif' font-size="10.8" text-anchor="start" font-weight="normal" font-style="normal" fill="#000" stroke="#000" stroke-width="0.22" >H148A</text>
<text x="537.4" y="161.2" font-family='"Liberation Sans", sans-serif' font-size="10.8" text-anchor="start" font-weight="normal" font-style="normal" fill="#000" stroke="#000" stroke-width="0.22" ><tspan font-style="italic">k</tspan> = 0.2550 min<tspan font-size="5.8" dy="-3.7">−1</tspan><tspan dy="3.7" dx="3.1">(</tspan><tspan font-style="italic">P</tspan> &lt; 0.0001)</text>
<text x="0" y="195.8" font-family='"Liberation Sans", sans-serif' font-size="14.8" text-anchor="start" font-weight="bold" font-style="normal" fill="#000" stroke="#000" stroke-width="0.22" >c</text>
<text x="67.2" y="199.9" font-family='"Liberation Sans", sans-serif' font-size="10.8" text-anchor="start" font-weight="normal" font-style="normal" fill="#000" stroke="#000" stroke-width="0.22" textLength="108.5" lengthAdjust="spacingAndGlyphs">Digestion of T20P14-C</text>
<path d="M37.8 205.38V324.9H177.8" fill="none" stroke="#4a4a4a" stroke-width="1.3"/>
<path d="M34.5 324.9H37.8M34.5 304.98H37.8M34.5 285.06H37.8M34.5 265.14H37.8M34.5 245.22H37.8M34.5 225.3H37.8M34.5 205.38H37.8M37.8 324.9V327.9M65.8 324.9V327.9M93.8 324.9V327.9M121.8 324.9V327.9M149.8 324.9V327.9M177.8 324.9V327.9" fill="none" stroke="#4a4a4a" stroke-width="1.3"/>
<text x="0" y="0" font-family='"Liberation Sans", sans-serif' font-size="10" text-anchor="end" font-weight="normal" font-style="normal" fill="#000" stroke="#000" stroke-width="0.22" transform="translate(33.5 328.4) scale(0.97 1.08)">0</text>
<text x="0" y="0" font-family='"Liberation Sans", sans-serif' font-size="10" text-anchor="end" font-weight="normal" font-style="normal" fill="#000" stroke="#000" stroke-width="0.22" transform="translate(33.5 308.48) scale(0.97 1.08)">20</text>
<text x="0" y="0" font-family='"Liberation Sans", sans-serif' font-size="10" text-anchor="end" font-weight="normal" font-style="normal" fill="#000" stroke="#000" stroke-width="0.22" transform="translate(33.5 288.56) scale(0.97 1.08)">40</text>
<text x="0" y="0" font-family='"Liberation Sans", sans-serif' font-size="10" text-anchor="end" font-weight="normal" font-style="normal" fill="#000" stroke="#000" stroke-width="0.22" transform="translate(33.5 268.64) scale(0.97 1.08)">60</text>
<text x="0" y="0" font-family='"Liberation Sans", sans-serif' font-size="10" text-anchor="end" font-weight="normal" font-style="normal" fill="#000" stroke="#000" stroke-width="0.22" transform="translate(33.5 248.72) scale(0.97 1.08)">80</text>
<text x="0" y="0" font-family='"Liberation Sans", sans-serif' font-size="10" text-anchor="end" font-weight="normal" font-style="normal" fill="#000" stroke="#000" stroke-width="0.22" transform="translate(33.5 228.8) scale(0.97 1.08)">100</text>
<text x="0" y="0" font-family='"Liberation Sans", sans-serif' font-size="10" text-anchor="end" font-weight="normal" font-style="normal" fill="#000" stroke="#000" stroke-width="0.22" transform="translate(33.5 208.88) scale(0.97 1.08)">120</text>
<text x="0" y="0" font-family='"Liberation Sans", sans-serif' font-size="10" text-anchor="middle" font-weight="normal" font-style="normal" fill="#000" stroke="#000" stroke-width="0.22" transform="translate(37.8 337.9) scale(0.97 1.08)">0</text>
<text x="0" y="0" font-family='"Liberation Sans", sans-serif' font-size="10" text-anchor="middle" font-weight="normal" font-style="normal" fill="#000" stroke="#000" stroke-width="0.22" transform="translate(65.8 337.9) scale(0.97 1.08)">1</text>
<text x="0" y="0" font-family='"Liberation Sans", sans-serif' font-size="10" text-anchor="middle" font-weight="normal" font-style="normal" fill="#000" stroke="#000" stroke-width="0.22" transform="translate(93.8 337.9) scale(0.97 1.08)">2</text>
<text x="0" y="0" font-family='"Liberation Sans", sans-serif' font-size="10" text-anchor="middle" font-weight="normal" font-style="normal" fill="#000" stroke="#000" stroke-width="0.22" transform="translate(121.8 337.9) scale(0.97 1.08)">3</text>
<text x="0" y="0" font-family='"Liberation Sans", sans-serif' font-size="10" text-anchor="middle" font-weight="normal" font-style="normal" fill="#000" stroke="#000" stroke-width="0.22" transform="translate(149.8 337.9) scale(0.97 1.08)">4</text>
<text x="0" y="0" font-family='"Liberation Sans", sans-serif' font-size="10" text-anchor="middle" font-weight="normal" font-style="normal" fill="#000" stroke="#000" stroke-width="0.22" transform="translate(177.8 337.9) scale(0.97 1.08)">5</text>
<text x="108.6" y="349.9" font-family='"Liberation Sans", sans-serif' font-size="10.3" text-anchor="middle" font-weight="normal" font-style="normal" fill="#000" stroke="#000" stroke-width="0.22" textLength="87.8" lengthAdjust="spacingAndGlyphs">Reaction time (min)</text>
<text x="13.6" y="260.5" font-family='"Liberation Sans", sans-serif' font-size="10.3" text-anchor="middle" font-weight="normal" font-style="normal" fill="#000" stroke="#000" stroke-width="0.22" transform="rotate(-90 13.6 260.5)" textLength="111" lengthAdjust="spacingAndGlyphs">Remaining substrate (%)</text>
<polyline points="37.8,225.3 38.97,235.3 40.13,244.25 41.3,252.26 42.47,259.44 43.63,265.87 44.8,271.62 45.97,276.77 47.13,281.39 48.3,285.52 49.47,289.22 50.63,292.53 51.8,295.5 52.97,298.16 54.13,300.54 55.3,302.67 56.47,304.58 57.63,306.28 58.8,307.81 59.97,309.18 61.13,310.41 62.3,311.51 63.47,312.49 64.63,313.37 65.8,314.16 66.97,314.87 68.13,315.5 69.3,316.07 70.47,316.57 71.63,317.03 72.8,317.43 73.97,317.8 75.13,318.12 76.3,318.42 77.47,318.68 78.63,318.91 79.8,319.12 80.97,319.31 82.13,319.48 83.3,319.63 84.47,319.76 85.63,319.88 86.8,319.99 87.97,320.09 89.13,320.17 90.3,320.25 91.47,320.32 92.63,320.38 93.8,320.44 94.97,320.49 96.13,320.53 97.3,320.57 98.47,320.61 99.63,320.64 100.8,320.67 101.97,320.7 103.13,320.72 104.3,320.74 105.47,320.76 106.63,320.77 107.8,320.79 108.97,320.8 110.13,320.81 111.3,320.82 112.47,320.83 113.63,320.84 114.8,320.85 115.97,320.86 117.13,320.86 118.3,320.87 119.47,320.87 120.63,320.88 121.8,320.88 122.97,320.89 124.13,320.89 125.3,320.89 126.47,320.89 127.63,320.9 128.8,320.9 129.97,320.9 131.13,320.9 132.3,320.9 133.47,320.9 134.63,320.91 135.8,320.91 136.97,320.91 138.13,320.91 139.3,320.91 140.47,320.91 141.63,320.91 142.8,320.91 143.97,320.91 145.13,320.91 146.3,320.91 147.47,320.91 148.63,320.91 149.8,320.91 150.97,320.91 152.13,320.91 153.3,320.91 154.47,320.91 155.63,320.91 156.8,320.91 157.97,320.91 159.13,320.92 160.3,320.92 161.47,320.92 162.63,320.92 163.8,320.92 164.97,320.92 166.13,320.92 167.3,320.92 168.47,320.92 169.63,320.92 170.8,320.92 171.97,320.92 173.13,320.92 174.3,320.92 175.47,320.92 176.63,320.92 177.8,320.92" fill="none" stroke="#FFA200" stroke-width="1"/>
<path d="M42.47 259.66V263.65M40.77 259.66H44.17M40.77 263.65H44.17M47.13 277.69V283.67M45.43 277.69H48.83M45.43 283.67H48.83M51.8 292.43V296.41M50.1 292.43H53.5M50.1 296.41H53.5M56.47 300.4V306.37M54.77 300.4H58.17M54.77 306.37H58.17M61.13 305.58V311.55M59.43 305.58H62.83M59.43 311.55H62.83M65.8 311.45V315.44M64.1 311.45H67.5M64.1 315.44H67.5M70.47 314.04V320.02M68.77 314.04H72.17M68.77 320.02H72.17M75.13 317.33V319.32M73.43 317.33H76.83M73.43 319.32H76.83M79.8 317.13V319.12M78.1 317.13H81.5M78.1 319.12H81.5M93.8 318.92V320.92M92.1 318.92H95.5M92.1 320.92H95.5M121.8 319.82V321.81M120.1 319.82H123.5M120.1 321.81H123.5M177.8 319.32V321.31M176.1 319.32H179.5M176.1 321.31H179.5" fill="none" stroke="#FFA200" stroke-width="0.8"/>
<g fill="#FFA200"><circle cx="42.47" cy="261.65" r="1.8"/><circle cx="47.13" cy="280.68" r="1.8"/><circle cx="51.8" cy="294.42" r="1.8"/><circle cx="56.47" cy="303.39" r="1.8"/><circle cx="61.13" cy="308.57" r="1.8"/><circle cx="65.8" cy="313.45" r="1.8"/><circle cx="70.47" cy="317.03" r="1.8"/><circle cx="75.13" cy="318.33" r="1.8"/><circle cx="79.8" cy="318.13" r="1.8"/><circle cx="93.8" cy="319.92" r="1.8"/><circle cx="121.8" cy="320.82" r="1.8"/><circle cx="177.8" cy="320.32" r="1.8"/></g>
<polyline points="37.8,225.3 38.97,227.43 40.13,229.5 41.3,231.51 42.47,233.46 43.63,235.35 44.8,237.18 45.97,238.96 47.13,240.68 48.3,242.35 49.47,243.98 50.63,245.55 51.8,247.08 52.97,248.56 54.13,250 55.3,251.39 56.47,252.74 57.63,254.05 58.8,255.32 59.97,256.56 61.13,257.76 62.3,258.92 63.47,260.04 64.63,261.14 65.8,262.2 66.97,263.22 68.13,264.22 69.3,265.19 70.47,266.13 71.63,267.04 72.8,267.92 73.97,268.78 75.13,269.61 76.3,270.41 77.47,271.2 78.63,271.95 79.8,272.69 80.97,273.4 82.13,274.1 83.3,274.77 84.47,275.42 85.63,276.05 86.8,276.66 87.97,277.26 89.13,277.84 90.3,278.4 91.47,278.94 92.63,279.46 93.8,279.98 94.97,280.47 96.13,280.95 97.3,281.42 98.47,281.87 99.63,282.31 100.8,282.73 101.97,283.15 103.13,283.55 104.3,283.94 105.47,284.31 106.63,284.68 107.8,285.03 108.97,285.38 110.13,285.71 111.3,286.03 112.47,286.35 113.63,286.65 114.8,286.95 115.97,287.23 117.13,287.51 118.3,287.78 119.47,288.04 120.63,288.3 121.8,288.54 122.97,288.78 124.13,289.01 125.3,289.24 126.47,289.46 127.63,289.67 128.8,289.87 129.97,290.07 131.13,290.27 132.3,290.45 133.47,290.63 134.63,290.81 135.8,290.98 136.97,291.15 138.13,291.31 139.3,291.46 140.47,291.62 141.63,291.76 142.8,291.9 143.97,292.04 145.13,292.18 146.3,292.31 147.47,292.43 148.63,292.55 149.8,292.67 150.97,292.79 152.13,292.9 153.3,293.01 154.47,293.11 155.63,293.22 156.8,293.31 157.97,293.41 159.13,293.5 160.3,293.59 161.47,293.68 162.63,293.77 163.8,293.85 164.97,293.93 166.13,294.01 167.3,294.08 168.47,294.15 169.63,294.22 170.8,294.29 171.97,294.36 173.13,294.42 174.3,294.49 175.47,294.55 176.63,294.61 177.8,294.66" fill="none" stroke="#1C8C1C" stroke-width="1"/>
<path d="M42.47 228.09V232.07M40.77 228.09H44.17M40.77 232.07H44.17M47.13 233.97V237.95M45.43 233.97H48.83M45.43 237.95H48.83M51.8 245.72V247.71M50.1 245.72H53.5M50.1 247.71H53.5M56.47 253.29V257.27M54.77 253.29H58.17M54.77 257.27H58.17M61.13 261.36V267.33M59.43 261.36H62.83M59.43 267.33H62.83M65.8 263.55V265.54M64.1 263.55H67.5M64.1 265.54H67.5M70.47 267.93V271.91M68.77 267.93H72.17M68.77 271.91H72.17M75.13 270.92V272.91M73.43 270.92H76.83M73.43 272.91H76.83M79.8 271.71V276.69M78.1 271.71H81.5M78.1 276.69H81.5M93.8 277.39V282.37M92.1 277.39H95.5M92.1 282.37H95.5M121.8 287.25V289.24M120.1 287.25H123.5M120.1 289.24H123.5M177.8 293.92V295.92M176.1 293.92H179.5M176.1 295.92H179.5" fill="none" stroke="#1C8C1C" stroke-width="0.8"/>
<g fill="#1C8C1C"><circle cx="42.47" cy="230.08" r="1.8"/><circle cx="47.13" cy="235.96" r="1.8"/><circle cx="51.8" cy="246.71" r="1.8"/><circle cx="56.47" cy="255.28" r="1.8"/><circle cx="61.13" cy="264.34" r="1.8"/><circle cx="65.8" cy="264.54" r="1.8"/><circle cx="70.47" cy="269.92" r="1.8"/><circle cx="75.13" cy="271.91" r="1.8"/><circle cx="79.8" cy="274.2" r="1.8"/><circle cx="93.8" cy="279.88" r="1.8"/><circle cx="121.8" cy="288.25" r="1.8"/><circle cx="177.8" cy="294.92" r="1.8"/></g>
<polyline points="37.8,225.3 38.97,232.32 40.13,238.82 41.3,244.84 42.47,250.41 43.63,255.56 44.8,260.34 45.97,264.76 47.13,268.85 48.3,272.64 49.47,276.15 50.63,279.39 51.8,282.4 52.97,285.18 54.13,287.76 55.3,290.15 56.47,292.36 57.63,294.4 58.8,296.29 59.97,298.05 61.13,299.67 62.3,301.17 63.47,302.56 64.63,303.85 65.8,305.04 66.97,306.15 68.13,307.17 69.3,308.11 70.47,308.99 71.63,309.8 72.8,310.55 73.97,311.25 75.13,311.89 76.3,312.49 77.47,313.04 78.63,313.55 79.8,314.02 80.97,314.46 82.13,314.86 83.3,315.24 84.47,315.59 85.63,315.91 86.8,316.21 87.97,316.48 89.13,316.74 90.3,316.97 91.47,317.19 92.63,317.39 93.8,317.58 94.97,317.75 96.13,317.91 97.3,318.06 98.47,318.2 99.63,318.33 100.8,318.45 101.97,318.56 103.13,318.66 104.3,318.75 105.47,318.84 106.63,318.92 107.8,318.99 108.97,319.06 110.13,319.12 111.3,319.18 112.47,319.24 113.63,319.29 114.8,319.34 115.97,319.38 117.13,319.42 118.3,319.46 119.47,319.49 120.63,319.52 121.8,319.55 122.97,319.58 124.13,319.6 125.3,319.63 126.47,319.65 127.63,319.67 128.8,319.69 129.97,319.71 131.13,319.72 132.3,319.74 133.47,319.75 134.63,319.76 135.8,319.77 136.97,319.78 138.13,319.79 139.3,319.8 140.47,319.81 141.63,319.82 142.8,319.83 143.97,319.83 145.13,319.84 146.3,319.85 147.47,319.85 148.63,319.86 149.8,319.86 150.97,319.87 152.13,319.87 153.3,319.87 154.47,319.88 155.63,319.88 156.8,319.88 157.97,319.89 159.13,319.89 160.3,319.89 161.47,319.89 162.63,319.9 163.8,319.9 164.97,319.9 166.13,319.9 167.3,319.9 168.47,319.9 169.63,319.9 170.8,319.91 171.97,319.91 173.13,319.91 174.3,319.91 175.47,319.91 176.63,319.91 177.8,319.91" fill="none" stroke="#3F3391" stroke-width="1"/>
<path d="M42.47 247.11V255.08M40.77 247.11H44.17M40.77 255.08H44.17M47.13 265.64V271.61M45.43 265.64H48.83M45.43 271.61H48.83M51.8 280.28V286.26M50.1 280.28H53.5M50.1 286.26H53.5M56.47 288.25V294.22M54.77 288.25H58.17M54.77 294.22H58.17M61.13 295.52V303.49M59.43 295.52H62.83M59.43 303.49H62.83M65.8 302.99V308.96M64.1 302.99H67.5M64.1 308.96H67.5M70.47 305.58V311.55M68.77 305.58H72.17M68.77 311.55H72.17M75.13 308.17V314.14M73.43 308.17H76.83M73.43 314.14H76.83M79.8 309.56V315.54M78.1 309.56H81.5M78.1 315.54H81.5M93.8 312.65V318.63M92.1 312.65H95.5M92.1 318.63H95.5M121.8 318.92V320.92M120.1 318.92H123.5M120.1 320.92H123.5M177.8 319.32V321.31M176.1 319.32H179.5M176.1 321.31H179.5" fill="none" stroke="#3F3391" stroke-width="0.8"/>
<g fill="#3F3391"><circle cx="42.47" cy="251.1" r="1.8"/><circle cx="47.13" cy="268.63" r="1.8"/><circle cx="51.8" cy="283.27" r="1.8"/><circle cx="56.47" cy="291.24" r="1.8"/><circle cx="61.13" cy="299.5" r="1.8"/><circle cx="65.8" cy="305.98" r="1.8"/><circle cx="70.47" cy="308.57" r="1.8"/><circle cx="75.13" cy="311.16" r="1.8"/><circle cx="79.8" cy="312.55" r="1.8"/><circle cx="93.8" cy="315.64" r="1.8"/><circle cx="121.8" cy="319.92" r="1.8"/><circle cx="177.8" cy="320.32" r="1.8"/></g>
<polyline points="37.8,225.3 38.97,227.13 40.13,228.69 41.3,230 42.47,231.12 43.63,232.06 44.8,232.86 45.97,233.53 47.13,234.1 48.3,234.59 49.47,234.99 50.63,235.34 51.8,235.63 52.97,235.88 54.13,236.09 55.3,236.27 56.47,236.42 57.63,236.55 58.8,236.66 59.97,236.75 61.13,236.83 62.3,236.89 63.47,236.95 64.63,236.99 65.8,237.03 66.97,237.07 68.13,237.1 69.3,237.12 70.47,237.14 71.63,237.16 72.8,237.17 73.97,237.18 75.13,237.19 76.3,237.2 77.47,237.21 78.63,237.22 79.8,237.22 80.97,237.23 82.13,237.23 83.3,237.23 84.47,237.24 85.63,237.24 86.8,237.24 87.97,237.24 89.13,237.24 90.3,237.25 91.47,237.25 92.63,237.25 93.8,237.25 94.97,237.25 96.13,237.25 97.3,237.25 98.47,237.25 99.63,237.25 100.8,237.25 101.97,237.25 103.13,237.25 104.3,237.25 105.47,237.25 106.63,237.25 107.8,237.25 108.97,237.25 110.13,237.25 111.3,237.25 112.47,237.25 113.63,237.25 114.8,237.25 115.97,237.25 117.13,237.25 118.3,237.25 119.47,237.25 120.63,237.25 121.8,237.25 122.97,237.25 124.13,237.25 125.3,237.25 126.47,237.25 127.63,237.25 128.8,237.25 129.97,237.25 131.13,237.25 132.3,237.25 133.47,237.25 134.63,237.25 135.8,237.25 136.97,237.25 138.13,237.25 139.3,237.25 140.47,237.25 141.63,237.25 142.8,237.25 143.97,237.25 145.13,237.25 146.3,237.25 147.47,237.25 148.63,237.25 149.8,237.25 150.97,237.25 152.13,237.25 153.3,237.25 154.47,237.25 155.63,237.25 156.8,237.25 157.97,237.25 159.13,237.25 160.3,237.25 161.47,237.25 162.63,237.25 163.8,237.25 164.97,237.25 166.13,237.25 167.3,237.25 168.47,237.25 169.63,237.25 170.8,237.25 171.97,237.25 173.13,237.25 174.3,237.25 175.47,237.25 176.63,237.25 177.8,237.25" fill="none" stroke="#1E8CFF" stroke-width="1"/>
<path d="M42.47 228.79V230.78M40.77 228.79H44.17M40.77 230.78H44.17M47.13 231.08V233.07M45.43 231.08H48.83M45.43 233.07H48.83M51.8 234.26V236.26M50.1 234.26H53.5M50.1 236.26H53.5M56.47 233.77V235.76M54.77 233.77H58.17M54.77 235.76H58.17M61.13 235.26V237.25M59.43 235.26H62.83M59.43 237.25H62.83M65.8 235.26V237.25M64.1 235.26H67.5M64.1 237.25H67.5M70.47 235.06V237.05M68.77 235.06H72.17M68.77 237.05H72.17M75.13 236.46V238.45M73.43 236.46H76.83M73.43 238.45H76.83M79.8 235.06V237.05M78.1 235.06H81.5M78.1 237.05H81.5M93.8 236.75V238.75M92.1 236.75H95.5M92.1 238.75H95.5M121.8 237.25V239.24M120.1 237.25H123.5M120.1 239.24H123.5M177.8 236.75V238.75M176.1 236.75H179.5M176.1 238.75H179.5" fill="none" stroke="#1E8CFF" stroke-width="0.8"/>
<g fill="#1E8CFF"><circle cx="42.47" cy="229.78" r="1.8"/><circle cx="47.13" cy="232.07" r="1.8"/><circle cx="51.8" cy="235.26" r="1.8"/><circle cx="56.47" cy="234.76" r="1.8"/><circle cx="61.13" cy="236.26" r="1.8"/><circle cx="65.8" cy="236.26" r="1.8"/><circle cx="70.47" cy="236.06" r="1.8"/><circle cx="75.13" cy="237.45" r="1.8"/><circle cx="79.8" cy="236.06" r="1.8"/><circle cx="93.8" cy="237.75" r="1.8"/><circle cx="121.8" cy="238.25" r="1.8"/><circle cx="177.8" cy="237.75" r="1.8"/></g>
<polyline points="37.8,225.3 38.97,226.71 40.13,228.07 41.3,229.37 42.47,230.62 43.63,231.83 44.8,232.99 45.97,234.1 47.13,235.17 48.3,236.2 49.47,237.18 50.63,238.13 51.8,239.05 52.97,239.92 54.13,240.77 55.3,241.58 56.47,242.36 57.63,243.11 58.8,243.83 59.97,244.52 61.13,245.18 62.3,245.82 63.47,246.44 64.63,247.03 65.8,247.59 66.97,248.14 68.13,248.66 69.3,249.17 70.47,249.65 71.63,250.12 72.8,250.57 73.97,251 75.13,251.41 76.3,251.81 77.47,252.19 78.63,252.56 79.8,252.91 80.97,253.25 82.13,253.58 83.3,253.89 84.47,254.19 85.63,254.48 86.8,254.76 87.97,255.03 89.13,255.28 90.3,255.53 91.47,255.77 92.63,256 93.8,256.22 94.97,256.43 96.13,256.63 97.3,256.83 98.47,257.01 99.63,257.19 100.8,257.37 101.97,257.53 103.13,257.69 104.3,257.85 105.47,257.99 106.63,258.14 107.8,258.27 108.97,258.4 110.13,258.53 111.3,258.65 112.47,258.77 113.63,258.88 114.8,258.99 115.97,259.09 117.13,259.19 118.3,259.29 119.47,259.38 120.63,259.47 121.8,259.55 122.97,259.63 124.13,259.71 125.3,259.79 126.47,259.86 127.63,259.93 128.8,260 129.97,260.06 131.13,260.12 132.3,260.18 133.47,260.24 134.63,260.29 135.8,260.35 136.97,260.4 138.13,260.45 139.3,260.49 140.47,260.54 141.63,260.58 142.8,260.62 143.97,260.66 145.13,260.7 146.3,260.74 147.47,260.77 148.63,260.81 149.8,260.84 150.97,260.87 152.13,260.9 153.3,260.93 154.47,260.96 155.63,260.99 156.8,261.01 157.97,261.04 159.13,261.06 160.3,261.08 161.47,261.11 162.63,261.13 163.8,261.15 164.97,261.17 166.13,261.19 167.3,261.2 168.47,261.22 169.63,261.24 170.8,261.26 171.97,261.27 173.13,261.29 174.3,261.3 175.47,261.31 176.63,261.33 177.8,261.34" fill="none" stroke="#B01C22" stroke-width="1"/>
<path d="M42.47 228.19V230.18M40.77 228.19H44.17M40.77 230.18H44.17M47.13 233.27V235.26M45.43 233.27H48.83M45.43 235.26H48.83M51.8 235.66V237.65M50.1 235.66H53.5M50.1 237.65H53.5M56.47 239.24V243.23M54.77 239.24H58.17M54.77 243.23H58.17M61.13 244.92V247.91M59.43 244.92H62.83M59.43 247.91H62.83M65.8 248.31V250.3M64.1 248.31H67.5M64.1 250.3H67.5M70.47 249.1V251.1M68.77 249.1H72.17M68.77 251.1H72.17M75.13 250.1V252.09M73.43 250.1H76.83M73.43 252.09H76.83M79.8 251.59V259.56M78.1 251.59H81.5M78.1 259.56H81.5M93.8 254.58V256.57M92.1 254.58H95.5M92.1 256.57H95.5M121.8 259.26V261.26M120.1 259.26H123.5M120.1 261.26H123.5M177.8 259.26V261.26M176.1 259.26H179.5M176.1 261.26H179.5" fill="none" stroke="#B01C22" stroke-width="0.8"/>
<g fill="#B01C22"><circle cx="42.47" cy="229.18" r="1.8"/><circle cx="47.13" cy="234.26" r="1.8"/><circle cx="51.8" cy="236.65" r="1.8"/><circle cx="56.47" cy="241.24" r="1.8"/><circle cx="61.13" cy="246.42" r="1.8"/><circle cx="65.8" cy="249.3" r="1.8"/><circle cx="70.47" cy="250.1" r="1.8"/><circle cx="75.13" cy="251.1" r="1.8"/><circle cx="79.8" cy="255.58" r="1.8"/><circle cx="93.8" cy="255.58" r="1.8"/><circle cx="121.8" cy="260.26" r="1.8"/><circle cx="177.8" cy="260.26" r="1.8"/></g>
<path d="M191.6 205.8H205" stroke="#FFA200" stroke-width="1.15"/>
<circle cx="198.3" cy="205.8" r="1.85" fill="#FFA200"/>
<text x="208.6" y="209.6" font-family='"Liberation Sans", sans-serif' font-size="10.8" text-anchor="start" font-weight="normal" font-style="normal" fill="#000" stroke="#000" stroke-width="0.22" >WT</text>
<text x="192.2" y="221.6" font-family='"Liberation Sans", sans-serif' font-size="10.8" text-anchor="start" font-weight="normal" font-style="normal" fill="#000" stroke="#000" stroke-width="0.22" ><tspan font-style="italic">k</tspan> = 2.343 min<tspan font-size="5.8" dy="-3.7">−1</tspan></text>
<path d="M191.6 236.4H205" stroke="#1C8C1C" stroke-width="1.15"/>
<circle cx="198.3" cy="236.4" r="1.85" fill="#1C8C1C"/>
<text x="208.6" y="239.8" font-family='"Liberation Sans", sans-serif' font-size="10.8" text-anchor="start" font-weight="normal" font-style="normal" fill="#000" stroke="#000" stroke-width="0.22" >P141A</text>
<text x="192.2" y="252.6" font-family='"Liberation Sans", sans-serif' font-size="10.8" text-anchor="start" font-weight="normal" font-style="normal" fill="#000" stroke="#000" stroke-width="0.22" ><tspan font-style="italic">k</tspan> = 0.4228 min<tspan font-size="5.8" dy="-3.7">−1</tspan><tspan dy="3.7" dx="3.1">(</tspan><tspan font-style="italic">P</tspan> &lt; 0.0001)</text>
<path d="M191.6 268.4H205" stroke="#3F3391" stroke-width="1.15"/>
<circle cx="198.3" cy="268.4" r="1.85" fill="#3F3391"/>
<text x="208.6" y="271.7" font-family='"Liberation Sans", sans-serif' font-size="10.8" text-anchor="start" font-weight="normal" font-style="normal" fill="#000" stroke="#000" stroke-width="0.22" >Q145A</text>
<text x="192.2" y="284.4" font-family='"Liberation Sans", sans-serif' font-size="10.8" text-anchor="start" font-weight="normal" font-style="normal" fill="#000" stroke="#000" stroke-width="0.22" ><tspan font-style="italic">k</tspan> = 1.631 min<tspan font-size="5.8" dy="-3.7">−1</tspan><tspan dy="3.7" dx="3.1">(</tspan><tspan font-style="italic">P</tspan> &lt; 0.0001)</text>
<path d="M191.6 299.1H205" stroke="#1E8CFF" stroke-width="1.15"/>
<circle cx="198.3" cy="299.1" r="1.85" fill="#1E8CFF"/>
<text x="208.6" y="302.8" font-family='"Liberation Sans", sans-serif' font-size="10.8" text-anchor="start" font-weight="normal" font-style="normal" fill="#000" stroke="#000" stroke-width="0.22" >F146A</text>
<text x="192.2" y="313.7" font-family='"Liberation Sans", sans-serif' font-size="10.8" text-anchor="start" font-weight="normal" font-style="normal" fill="#000" stroke="#000" stroke-width="0.22" ><tspan font-style="italic">k</tspan> = 0.05163 min<tspan font-size="5.8" dy="-3.7">−1</tspan><tspan dy="3.7" dx="3.1">(</tspan><tspan font-style="italic">P</tspan> &lt; 0.0001)</text>
<path d="M191.6 330.3H205" stroke="#B01C22" stroke-width="1.15"/>
<circle cx="198.3" cy="330.3" r="1.85" fill="#B01C22"/>
<text x="208.6" y="332.9" font-family='"Liberation Sans", sans-serif' font-size="10.8" text-anchor="start" font-weight="normal" font-style="normal" fill="#000" stroke="#000" stroke-width="0.22" >H148A</text>
<text x="192.2" y="346.2" font-family='"Liberation Sans", sans-serif' font-size="10.8" text-anchor="start" font-weight="normal" font-style="normal" fill="#000" stroke="#000" stroke-width="0.22" ><tspan font-style="italic">k</tspan> = 0.1596 min<tspan font-size="5.8" dy="-3.7">−1</tspan><tspan dy="3.7" dx="3.1">(</tspan><tspan font-style="italic">P</tspan> &lt; 0.0001)</text>
<text x="344.6" y="196.1" font-family='"Liberation Sans", sans-serif' font-size="14.8" text-anchor="start" font-weight="bold" font-style="normal" fill="#000" stroke="#000" stroke-width="0.22" >d</text>
<text x="414.4" y="199.9" font-family='"Liberation Sans", sans-serif' font-size="10.8" text-anchor="start" font-weight="normal" font-style="normal" fill="#000" stroke="#000" stroke-width="0.22" textLength="108.5" lengthAdjust="spacingAndGlyphs">Digestion of T20P14-G</text>
<path d="M384.8 205.4V325.1H524.3" fill="none" stroke="#4a4a4a" stroke-width="1.3"/>
<path d="M381.5 325.1H384.8M381.5 305.15H384.8M381.5 285.2H384.8M381.5 265.25H384.8M381.5 245.3H384.8M381.5 225.35H384.8M381.5 205.4H384.8M384.8 325.1V328.1M412.7 325.1V328.1M440.6 325.1V328.1M468.5 325.1V328.1M496.4 325.1V328.1M524.3 325.1V328.1" fill="none" stroke="#4a4a4a" stroke-width="1.3"/>
<text x="0" y="0" font-family='"Liberation Sans", sans-serif' font-size="10" text-anchor="end" font-weight="normal" font-style="normal" fill="#000" stroke="#000" stroke-width="0.22" transform="translate(380.5 328.6) scale(0.97 1.08)">0</text>
<text x="0" y="0" font-family='"Liberation Sans", sans-serif' font-size="10" text-anchor="end" font-weight="normal" font-style="normal" fill="#000" stroke="#000" stroke-width="0.22" transform="translate(380.5 308.65) scale(0.97 1.08)">20</text>
<text x="0" y="0" font-family='"Liberation Sans", sans-serif' font-size="10" text-anchor="end" font-weight="normal" font-style="normal" fill="#000" stroke="#000" stroke-width="0.22" transform="translate(380.5 288.7) scale(0.97 1.08)">40</text>
<text x="0" y="0" font-family='"Liberation Sans", sans-serif' font-size="10" text-anchor="end" font-weight="normal" font-style="normal" fill="#000" stroke="#000" stroke-width="0.22" transform="translate(380.5 268.75) scale(0.97 1.08)">60</text>
<text x="0" y="0" font-family='"Liberation Sans", sans-serif' font-size="10" text-anchor="end" font-weight="normal" font-style="normal" fill="#000" stroke="#000" stroke-width="0.22" transform="translate(380.5 248.8) scale(0.97 1.08)">80</text>
<text x="0" y="0" font-family='"Liberation Sans", sans-serif' font-size="10" text-anchor="end" font-weight="normal" font-style="normal" fill="#000" stroke="#000" stroke-width="0.22" transform="translate(380.5 228.85) scale(0.97 1.08)">100</text>
<text x="0" y="0" font-family='"Liberation Sans", sans-serif' font-size="10" text-anchor="end" font-weight="normal" font-style="normal" fill="#000" stroke="#000" stroke-width="0.22" transform="translate(380.5 208.9) scale(0.97 1.08)">120</text>
<text x="0" y="0" font-family='"Liberation Sans", sans-serif' font-size="10" text-anchor="middle" font-weight="normal" font-style="normal" fill="#000" stroke="#000" stroke-width="0.22" transform="translate(384.8 338.1) scale(0.97 1.08)">0</text>
<text x="0" y="0" font-family='"Liberation Sans", sans-serif' font-size="10" text-anchor="middle" font-weight="normal" font-style="normal" fill="#000" stroke="#000" stroke-width="0.22" transform="translate(412.7 338.1) scale(0.97 1.08)">1</text>
<text x="0" y="0" font-family='"Liberation Sans", sans-serif' font-size="10" text-anchor="middle" font-weight="normal" font-style="normal" fill="#000" stroke="#000" stroke-width="0.22" transform="translate(440.6 338.1) scale(0.97 1.08)">2</text>
<text x="0" y="0" font-family='"Liberation Sans", sans-serif' font-size="10" text-anchor="middle" font-weight="normal" font-style="normal" fill="#000" stroke="#000" stroke-width="0.22" transform="translate(468.5 338.1) scale(0.97 1.08)">3</text>
<text x="0" y="0" font-family='"Liberation Sans", sans-serif' font-size="10" text-anchor="middle" font-weight="normal" font-style="normal" fill="#000" stroke="#000" stroke-width="0.22" transform="translate(496.4 338.1) scale(0.97 1.08)">4</text>
<text x="0" y="0" font-family='"Liberation Sans", sans-serif' font-size="10" text-anchor="middle" font-weight="normal" font-style="normal" fill="#000" stroke="#000" stroke-width="0.22" transform="translate(524.3 338.1) scale(0.97 1.08)">5</text>
<text x="455.35" y="350.1" font-family='"Liberation Sans", sans-serif' font-size="10.3" text-anchor="middle" font-weight="normal" font-style="normal" fill="#000" stroke="#000" stroke-width="0.22" textLength="87.8" lengthAdjust="spacingAndGlyphs">Reaction time (min)</text>
<text x="360.8" y="260.5" font-family='"Liberation Sans", sans-serif' font-size="10.3" text-anchor="middle" font-weight="normal" font-style="normal" fill="#000" stroke="#000" stroke-width="0.22" transform="rotate(-90 360.8 260.5)" textLength="111" lengthAdjust="spacingAndGlyphs">Remaining substrate (%)</text>
<polyline points="384.8,225.35 385.96,232.97 387.12,239.97 388.29,246.42 389.45,252.35 390.61,257.81 391.78,262.83 392.94,267.45 394.1,271.7 395.26,275.61 396.43,279.21 397.59,282.52 398.75,285.57 399.91,288.37 401.07,290.95 402.24,293.32 403.4,295.5 404.56,297.51 405.73,299.36 406.89,301.06 408.05,302.62 409.21,304.06 410.38,305.38 411.54,306.6 412.7,307.72 413.86,308.75 415.03,309.7 416.19,310.57 417.35,311.37 418.51,312.11 419.68,312.79 420.84,313.42 422,313.99 423.16,314.52 424.32,315.01 425.49,315.46 426.65,315.87 427.81,316.25 428.98,316.6 430.14,316.92 431.3,317.21 432.46,317.48 433.62,317.73 434.79,317.96 435.95,318.18 437.11,318.37 438.28,318.55 439.44,318.71 440.6,318.87 441.76,319.01 442.93,319.13 444.09,319.25 445.25,319.36 446.41,319.46 447.57,319.55 448.74,319.64 449.9,319.72 451.06,319.79 452.23,319.85 453.39,319.91 454.55,319.97 455.71,320.02 456.88,320.07 458.04,320.11 459.2,320.15 460.36,320.19 461.52,320.22 462.69,320.25 463.85,320.28 465.01,320.31 466.18,320.33 467.34,320.35 468.5,320.38 469.66,320.39 470.83,320.41 471.99,320.43 473.15,320.44 474.31,320.46 475.48,320.47 476.64,320.48 477.8,320.49 478.96,320.5 480.12,320.51 481.29,320.52 482.45,320.52 483.61,320.53 484.77,320.54 485.94,320.54 487.1,320.55 488.26,320.55 489.43,320.56 490.59,320.56 491.75,320.57 492.91,320.57 494.07,320.57 495.24,320.58 496.4,320.58 497.56,320.58 498.73,320.58 499.89,320.59 501.05,320.59 502.21,320.59 503.38,320.59 504.54,320.59 505.7,320.59 506.86,320.6 508.03,320.6 509.19,320.6 510.35,320.6 511.51,320.6 512.67,320.6 513.84,320.6 515,320.6 516.16,320.6 517.33,320.6 518.49,320.6 519.65,320.61 520.81,320.61 521.98,320.61 523.14,320.61 524.3,320.61" fill="none" stroke="#FFA200" stroke-width="1"/>
<path d="M389.45 253.28V265.25M387.75 253.28H391.15M387.75 265.25H391.15M394.1 268.24V276.22M392.4 268.24H395.8M392.4 276.22H395.8M398.75 283.8V289.79M397.05 283.8H400.45M397.05 289.79H400.45M403.4 289.49V295.47M401.7 289.49H405.1M401.7 295.47H405.1M408.05 298.57V304.55M406.35 298.57H409.75M406.35 304.55H409.75M412.7 307.34V311.33M411 307.34H414.4M411 311.33H414.4M417.35 309.64V313.63M415.65 309.64H419.05M415.65 313.63H419.05M422 312.83V318.82M420.3 312.83H423.7M420.3 318.82H423.7M426.65 311.73V317.72M424.95 311.73H428.35M424.95 317.72H428.35M440.6 317.12V319.12M438.9 317.12H442.3M438.9 319.12H442.3M468.5 319.81V321.81M466.8 319.81H470.2M466.8 321.81H470.2M524.3 320.21V322.21M522.6 320.21H526M522.6 322.21H526" fill="none" stroke="#FFA200" stroke-width="0.8"/>
<g fill="#FFA200"><circle cx="389.45" cy="259.26" r="1.8"/><circle cx="394.1" cy="272.23" r="1.8"/><circle cx="398.75" cy="286.8" r="1.8"/><circle cx="403.4" cy="292.48" r="1.8"/><circle cx="408.05" cy="301.56" r="1.8"/><circle cx="412.7" cy="309.34" r="1.8"/><circle cx="417.35" cy="311.63" r="1.8"/><circle cx="422" cy="315.82" r="1.8"/><circle cx="426.65" cy="314.73" r="1.8"/><circle cx="440.6" cy="318.12" r="1.8"/><circle cx="468.5" cy="320.81" r="1.8"/><circle cx="524.3" cy="321.21" r="1.8"/></g>
<polyline points="384.8,225.35 385.96,227.85 387.12,230.25 388.29,232.55 389.45,234.77 390.61,236.9 391.78,238.95 392.94,240.92 394.1,242.81 395.26,244.63 396.43,246.38 397.59,248.06 398.75,249.68 399.91,251.23 401.07,252.72 402.24,254.16 403.4,255.54 404.56,256.86 405.73,258.14 406.89,259.36 408.05,260.54 409.21,261.67 410.38,262.76 411.54,263.8 412.7,264.81 413.86,265.77 415.03,266.7 416.19,267.59 417.35,268.45 418.51,269.27 419.68,270.07 420.84,270.83 422,271.56 423.16,272.26 424.32,272.94 425.49,273.59 426.65,274.21 427.81,274.82 428.98,275.39 430.14,275.95 431.3,276.48 432.46,276.99 433.62,277.49 434.79,277.96 435.95,278.41 437.11,278.85 438.28,279.27 439.44,279.68 440.6,280.07 441.76,280.44 442.93,280.8 444.09,281.14 445.25,281.47 446.41,281.79 447.57,282.1 448.74,282.39 449.9,282.68 451.06,282.95 452.23,283.21 453.39,283.46 454.55,283.7 455.71,283.94 456.88,284.16 458.04,284.37 459.2,284.58 460.36,284.78 461.52,284.97 462.69,285.15 463.85,285.33 465.01,285.5 466.18,285.66 467.34,285.82 468.5,285.97 469.66,286.11 470.83,286.25 471.99,286.38 473.15,286.51 474.31,286.64 475.48,286.75 476.64,286.87 477.8,286.98 478.96,287.08 480.12,287.18 481.29,287.28 482.45,287.37 483.61,287.46 484.77,287.55 485.94,287.63 487.1,287.71 488.26,287.79 489.43,287.86 490.59,287.93 491.75,288 492.91,288.07 494.07,288.13 495.24,288.19 496.4,288.25 497.56,288.31 498.73,288.36 499.89,288.41 501.05,288.46 502.21,288.51 503.38,288.55 504.54,288.6 505.7,288.64 506.86,288.68 508.03,288.72 509.19,288.76 510.35,288.79 511.51,288.83 512.67,288.86 513.84,288.89 515,288.92 516.16,288.95 517.33,288.98 518.49,289.01 519.65,289.04 520.81,289.06 521.98,289.09 523.14,289.11 524.3,289.13" fill="none" stroke="#1C8C1C" stroke-width="1"/>
<path d="M389.45 230.14V232.13M387.75 230.14H391.15M387.75 232.13H391.15M394.1 242.71V244.7M392.4 242.71H395.8M392.4 244.7H395.8M398.75 246.6V248.59M397.05 246.6H400.45M397.05 248.59H400.45M403.4 254.08V256.07M401.7 254.08H405.1M401.7 256.07H405.1M408.05 259.36V261.36M406.35 259.36H409.75M406.35 261.36H409.75M412.7 265.05V267.05M411 265.05H414.4M411 267.05H414.4M417.35 266.35V268.34M415.65 266.35H419.05M415.65 268.34H419.05M422 269.84V271.83M420.3 269.84H423.7M420.3 271.83H423.7M426.65 271.53V273.53M424.95 271.53H428.35M424.95 273.53H428.35M440.6 279.02V281.01M438.9 279.02H442.3M438.9 281.01H442.3M468.5 283.21V285.2M466.8 283.21H470.2M466.8 285.2H470.2M524.3 287.89V289.89M522.6 287.89H526M522.6 289.89H526" fill="none" stroke="#1C8C1C" stroke-width="0.8"/>
<g fill="#1C8C1C"><circle cx="389.45" cy="231.14" r="1.8"/><circle cx="394.1" cy="243.7" r="1.8"/><circle cx="398.75" cy="247.59" r="1.8"/><circle cx="403.4" cy="255.08" r="1.8"/><circle cx="408.05" cy="260.36" r="1.8"/><circle cx="412.7" cy="266.05" r="1.8"/><circle cx="417.35" cy="267.34" r="1.8"/><circle cx="422" cy="270.84" r="1.8"/><circle cx="426.65" cy="272.53" r="1.8"/><circle cx="440.6" cy="280.01" r="1.8"/><circle cx="468.5" cy="284.2" r="1.8"/><circle cx="524.3" cy="288.89" r="1.8"/></g>
<polyline points="384.8,225.35 385.96,231.08 387.12,236.43 388.29,241.44 389.45,246.13 390.61,250.52 391.78,254.62 392.94,258.46 394.1,262.05 395.26,265.41 396.43,268.55 397.59,271.49 398.75,274.24 399.91,276.81 401.07,279.22 402.24,281.47 403.4,283.57 404.56,285.54 405.73,287.39 406.89,289.11 408.05,290.73 409.21,292.24 410.38,293.65 411.54,294.97 412.7,296.2 413.86,297.36 415.03,298.44 416.19,299.45 417.35,300.4 418.51,301.28 419.68,302.11 420.84,302.89 422,303.61 423.16,304.29 424.32,304.93 425.49,305.52 426.65,306.07 427.81,306.59 428.98,307.08 430.14,307.53 431.3,307.96 432.46,308.36 433.62,308.73 434.79,309.08 435.95,309.4 437.11,309.71 438.28,309.99 439.44,310.26 440.6,310.51 441.76,310.74 442.93,310.96 444.09,311.16 445.25,311.36 446.41,311.53 447.57,311.7 448.74,311.86 449.9,312 451.06,312.14 452.23,312.27 453.39,312.39 454.55,312.5 455.71,312.61 456.88,312.7 458.04,312.8 459.2,312.88 460.36,312.96 461.52,313.04 462.69,313.11 463.85,313.17 465.01,313.24 466.18,313.29 467.34,313.35 468.5,313.4 469.66,313.44 470.83,313.49 471.99,313.53 473.15,313.57 474.31,313.6 475.48,313.64 476.64,313.67 477.8,313.7 478.96,313.73 480.12,313.75 481.29,313.78 482.45,313.8 483.61,313.82 484.77,313.84 485.94,313.86 487.1,313.88 488.26,313.89 489.43,313.91 490.59,313.92 491.75,313.93 492.91,313.95 494.07,313.96 495.24,313.97 496.4,313.98 497.56,313.99 498.73,314 499.89,314.01 501.05,314.01 502.21,314.02 503.38,314.03 504.54,314.03 505.7,314.04 506.86,314.05 508.03,314.05 509.19,314.06 510.35,314.06 511.51,314.07 512.67,314.07 513.84,314.07 515,314.08 516.16,314.08 517.33,314.08 518.49,314.09 519.65,314.09 520.81,314.09 521.98,314.09 523.14,314.1 524.3,314.1" fill="none" stroke="#3F3391" stroke-width="1"/>
<path d="M389.45 251.09V257.07M387.75 251.09H391.15M387.75 257.07H391.15M394.1 260.06V266.05M392.4 260.06H395.8M392.4 266.05H395.8M398.75 274.63V280.61M397.05 274.63H400.45M397.05 280.61H400.45M403.4 283.8V287.79M401.7 283.8H405.1M401.7 287.79H405.1M408.05 287.59V291.58M406.35 287.59H409.75M406.35 291.58H409.75M412.7 291.19V295.18M411 291.19H414.4M411 295.18H414.4M417.35 296.27V300.26M415.65 296.27H419.05M415.65 300.26H419.05M422 299.26V303.25M420.3 299.26H423.7M420.3 303.25H423.7M426.65 302.36V306.35M424.95 302.36H428.35M424.95 306.35H428.35M440.6 309.64V311.63M438.9 309.64H442.3M438.9 311.63H442.3M468.5 314.73V316.72M466.8 314.73H470.2M466.8 316.72H470.2M524.3 317.12V319.12M522.6 317.12H526M522.6 319.12H526" fill="none" stroke="#3F3391" stroke-width="0.8"/>
<g fill="#3F3391"><circle cx="389.45" cy="254.08" r="1.8"/><circle cx="394.1" cy="263.06" r="1.8"/><circle cx="398.75" cy="277.62" r="1.8"/><circle cx="403.4" cy="285.8" r="1.8"/><circle cx="408.05" cy="289.59" r="1.8"/><circle cx="412.7" cy="293.18" r="1.8"/><circle cx="417.35" cy="298.27" r="1.8"/><circle cx="422" cy="301.26" r="1.8"/><circle cx="426.65" cy="304.35" r="1.8"/><circle cx="440.6" cy="310.64" r="1.8"/><circle cx="468.5" cy="315.72" r="1.8"/><circle cx="524.3" cy="318.12" r="1.8"/></g>
<polyline points="384.8,225.35 385.96,226.43 387.12,227.38 388.29,228.22 389.45,228.96 390.61,229.61 391.78,230.19 392.94,230.7 394.1,231.15 395.26,231.55 396.43,231.9 397.59,232.21 398.75,232.48 399.91,232.72 401.07,232.93 402.24,233.12 403.4,233.29 404.56,233.43 405.73,233.56 406.89,233.67 408.05,233.77 409.21,233.86 410.38,233.94 411.54,234.01 412.7,234.07 413.86,234.12 415.03,234.17 416.19,234.21 417.35,234.25 418.51,234.28 419.68,234.31 420.84,234.34 422,234.36 423.16,234.38 424.32,234.4 425.49,234.41 426.65,234.43 427.81,234.44 428.98,234.45 430.14,234.46 431.3,234.47 432.46,234.47 433.62,234.48 434.79,234.48 435.95,234.49 437.11,234.49 438.28,234.5 439.44,234.5 440.6,234.5 441.76,234.51 442.93,234.51 444.09,234.51 445.25,234.51 446.41,234.51 447.57,234.52 448.74,234.52 449.9,234.52 451.06,234.52 452.23,234.52 453.39,234.52 454.55,234.52 455.71,234.52 456.88,234.52 458.04,234.52 459.2,234.52 460.36,234.52 461.52,234.52 462.69,234.52 463.85,234.53 465.01,234.53 466.18,234.53 467.34,234.53 468.5,234.53 469.66,234.53 470.83,234.53 471.99,234.53 473.15,234.53 474.31,234.53 475.48,234.53 476.64,234.53 477.8,234.53 478.96,234.53 480.12,234.53 481.29,234.53 482.45,234.53 483.61,234.53 484.77,234.53 485.94,234.53 487.1,234.53 488.26,234.53 489.43,234.53 490.59,234.53 491.75,234.53 492.91,234.53 494.07,234.53 495.24,234.53 496.4,234.53 497.56,234.53 498.73,234.53 499.89,234.53 501.05,234.53 502.21,234.53 503.38,234.53 504.54,234.53 505.7,234.53 506.86,234.53 508.03,234.53 509.19,234.53 510.35,234.53 511.51,234.53 512.67,234.53 513.84,234.53 515,234.53 516.16,234.53 517.33,234.53 518.49,234.53 519.65,234.53 520.81,234.53 521.98,234.53 523.14,234.53 524.3,234.53" fill="none" stroke="#1E8CFF" stroke-width="1"/>
<path d="M389.45 227.94V229.94M387.75 227.94H391.15M387.75 229.94H391.15M394.1 230.14V232.13M392.4 230.14H395.8M392.4 232.13H395.8M398.75 232.73V234.73M397.05 232.73H400.45M397.05 234.73H400.45M403.4 232.13V234.13M401.7 232.13H405.1M401.7 234.13H405.1M408.05 234.03V236.02M406.35 234.03H409.75M406.35 236.02H409.75M412.7 233.03V235.03M411 233.03H414.4M411 235.03H414.4M417.35 233.03V235.03M415.65 233.03H419.05M415.65 235.03H419.05M422 234.03V236.02M420.3 234.03H423.7M420.3 236.02H423.7M426.65 233.13V235.13M424.95 233.13H428.35M424.95 235.13H428.35M440.6 233.33V235.33M438.9 233.33H442.3M438.9 235.33H442.3M468.5 233.43V235.42M466.8 233.43H470.2M466.8 235.42H470.2M524.3 233.83V235.82M522.6 233.83H526M522.6 235.82H526" fill="none" stroke="#1E8CFF" stroke-width="0.8"/>
<g fill="#1E8CFF"><circle cx="389.45" cy="228.94" r="1.8"/><circle cx="394.1" cy="231.14" r="1.8"/><circle cx="398.75" cy="233.73" r="1.8"/><circle cx="403.4" cy="233.13" r="1.8"/><circle cx="408.05" cy="235.03" r="1.8"/><circle cx="412.7" cy="234.03" r="1.8"/><circle cx="417.35" cy="234.03" r="1.8"/><circle cx="422" cy="235.03" r="1.8"/><circle cx="426.65" cy="234.13" r="1.8"/><circle cx="440.6" cy="234.33" r="1.8"/><circle cx="468.5" cy="234.43" r="1.8"/><circle cx="524.3" cy="234.83" r="1.8"/></g>
<polyline points="384.8,225.35 385.96,226.04 387.12,226.72 388.29,227.39 389.45,228.05 390.61,228.69 391.78,229.33 392.94,229.95 394.1,230.56 395.26,231.16 396.43,231.76 397.59,232.34 398.75,232.91 399.91,233.47 401.07,234.02 402.24,234.56 403.4,235.09 404.56,235.62 405.73,236.13 406.89,236.64 408.05,237.13 409.21,237.62 410.38,238.1 411.54,238.57 412.7,239.03 413.86,239.49 415.03,239.94 416.19,240.37 417.35,240.81 418.51,241.23 419.68,241.65 420.84,242.06 422,242.46 423.16,242.85 424.32,243.24 425.49,243.62 426.65,244 427.81,244.37 428.98,244.73 430.14,245.09 431.3,245.44 432.46,245.78 433.62,246.12 434.79,246.45 435.95,246.78 437.11,247.1 438.28,247.41 439.44,247.72 440.6,248.02 441.76,248.32 442.93,248.62 444.09,248.91 445.25,249.19 446.41,249.47 447.57,249.74 448.74,250.01 449.9,250.28 451.06,250.53 452.23,250.79 453.39,251.04 454.55,251.29 455.71,251.53 456.88,251.77 458.04,252 459.2,252.23 460.36,252.46 461.52,252.68 462.69,252.9 463.85,253.11 465.01,253.32 466.18,253.53 467.34,253.73 468.5,253.93 469.66,254.13 470.83,254.32 471.99,254.51 473.15,254.7 474.31,254.88 475.48,255.06 476.64,255.24 477.8,255.41 478.96,255.58 480.12,255.75 481.29,255.91 482.45,256.08 483.61,256.24 484.77,256.39 485.94,256.55 487.1,256.7 488.26,256.84 489.43,256.99 490.59,257.13 491.75,257.27 492.91,257.41 494.07,257.55 495.24,257.68 496.4,257.81 497.56,257.94 498.73,258.07 499.89,258.19 501.05,258.32 502.21,258.44 503.38,258.55 504.54,258.67 505.7,258.79 506.86,258.9 508.03,259.01 509.19,259.12 510.35,259.22 511.51,259.33 512.67,259.43 513.84,259.53 515,259.63 516.16,259.73 517.33,259.82 518.49,259.92 519.65,260.01 520.81,260.1 521.98,260.19 523.14,260.28 524.3,260.36" fill="none" stroke="#B01C22" stroke-width="1"/>
<path d="M389.45 225.85V227.84M387.75 225.85H391.15M387.75 227.84H391.15M394.1 227.94V229.94M392.4 227.94H395.8M392.4 229.94H395.8M398.75 232.23V235.23M397.05 232.23H400.45M397.05 235.23H400.45M403.4 233.23V238.22M401.7 233.23H405.1M401.7 238.22H405.1M408.05 235.52V241.51M406.35 235.52H409.75M406.35 241.51H409.75M412.7 237.22V243.21M411 237.22H414.4M411 243.21H414.4M417.35 237.92V243.9M415.65 237.92H419.05M415.65 243.9H419.05M422 240.21V247.2M420.3 240.21H423.7M420.3 247.2H423.7M426.65 237.82V247.79M424.95 237.82H428.35M424.95 247.79H428.35M440.6 240.61V254.58M438.9 240.61H442.3M438.9 254.58H442.3M468.5 244.3V260.26M466.8 244.3H470.2M466.8 260.26H470.2M524.3 251.78V271.73M522.6 251.78H526M522.6 271.73H526" fill="none" stroke="#B01C22" stroke-width="0.8"/>
<g fill="#B01C22"><circle cx="389.45" cy="226.85" r="1.8"/><circle cx="394.1" cy="228.94" r="1.8"/><circle cx="398.75" cy="233.73" r="1.8"/><circle cx="403.4" cy="235.72" r="1.8"/><circle cx="408.05" cy="238.52" r="1.8"/><circle cx="412.7" cy="240.21" r="1.8"/><circle cx="417.35" cy="240.91" r="1.8"/><circle cx="422" cy="243.7" r="1.8"/><circle cx="426.65" cy="242.81" r="1.8"/><circle cx="440.6" cy="247.59" r="1.8"/><circle cx="468.5" cy="252.28" r="1.8"/><circle cx="524.3" cy="261.76" r="1.8"/></g>
<path d="M538.8 205.8H552.2" stroke="#FFA200" stroke-width="1.15"/>
<circle cx="545.5" cy="205.8" r="1.85" fill="#FFA200"/>
<text x="555.8" y="209.6" font-family='"Liberation Sans", sans-serif' font-size="10.8" text-anchor="start" font-weight="normal" font-style="normal" fill="#000" stroke="#000" stroke-width="0.22" >WT</text>
<text x="539.4" y="221.6" font-family='"Liberation Sans", sans-serif' font-size="10.8" text-anchor="start" font-weight="normal" font-style="normal" fill="#000" stroke="#000" stroke-width="0.22" ><tspan font-style="italic">k</tspan> = 1.783 min<tspan font-size="5.8" dy="-3.7">−1</tspan></text>
<path d="M538.8 236.4H552.2" stroke="#1C8C1C" stroke-width="1.15"/>
<circle cx="545.5" cy="236.4" r="1.85" fill="#1C8C1C"/>
<text x="555.8" y="239.8" font-family='"Liberation Sans", sans-serif' font-size="10.8" text-anchor="start" font-weight="normal" font-style="normal" fill="#000" stroke="#000" stroke-width="0.22" >P141A</text>
<text x="539.4" y="252.6" font-family='"Liberation Sans", sans-serif' font-size="10.8" text-anchor="start" font-weight="normal" font-style="normal" fill="#000" stroke="#000" stroke-width="0.22" ><tspan font-style="italic">k</tspan> = 0.3950 min<tspan font-size="5.8" dy="-3.7">−1</tspan><tspan dy="3.7" dx="3.1">(</tspan><tspan font-style="italic">P</tspan> &lt; 0.0001)</text>
<path d="M538.8 268.4H552.2" stroke="#3F3391" stroke-width="1.15"/>
<circle cx="545.5" cy="268.4" r="1.85" fill="#3F3391"/>
<text x="555.8" y="271.7" font-family='"Liberation Sans", sans-serif' font-size="10.8" text-anchor="start" font-weight="normal" font-style="normal" fill="#000" stroke="#000" stroke-width="0.22" >Q145A</text>
<text x="539.4" y="284.4" font-family='"Liberation Sans", sans-serif' font-size="10.8" text-anchor="start" font-weight="normal" font-style="normal" fill="#000" stroke="#000" stroke-width="0.22" ><tspan font-style="italic">k</tspan> = 1.224 min<tspan font-size="5.8" dy="-3.7">−1</tspan><tspan dy="3.7" dx="3.1">(</tspan><tspan font-style="italic">P</tspan> &lt; 0.0001)</text>
<path d="M538.8 299.1H552.2" stroke="#1E8CFF" stroke-width="1.15"/>
<circle cx="545.5" cy="299.1" r="1.85" fill="#1E8CFF"/>
<text x="555.8" y="302.8" font-family='"Liberation Sans", sans-serif' font-size="10.8" text-anchor="start" font-weight="normal" font-style="normal" fill="#000" stroke="#000" stroke-width="0.22" >F146A</text>
<text x="539.4" y="313.7" font-family='"Liberation Sans", sans-serif' font-size="10.8" text-anchor="start" font-weight="normal" font-style="normal" fill="#000" stroke="#000" stroke-width="0.22" ><tspan font-style="italic">k</tspan> = 0.03674 min<tspan font-size="5.8" dy="-3.7">−1</tspan><tspan dy="3.7" dx="3.1">(</tspan><tspan font-style="italic">P</tspan> &lt; 0.0001)</text>
<path d="M538.8 330.3H552.2" stroke="#B01C22" stroke-width="1.15"/>
<circle cx="545.5" cy="330.3" r="1.85" fill="#B01C22"/>
<text x="555.8" y="332.9" font-family='"Liberation Sans", sans-serif' font-size="10.8" text-anchor="start" font-weight="normal" font-style="normal" fill="#000" stroke="#000" stroke-width="0.22" >H148A</text>
<text x="539.4" y="346.2" font-family='"Liberation Sans", sans-serif' font-size="10.8" text-anchor="start" font-weight="normal" font-style="normal" fill="#000" stroke="#000" stroke-width="0.22" ><tspan font-style="italic">k</tspan> = 0.1120 min<tspan font-size="5.8" dy="-3.7">−1</tspan><tspan dy="3.7" dx="3.1">(</tspan><tspan font-style="italic">P</tspan> &lt; 0.0001)</text>
<text x="0" y="378" font-family='"Liberation Sans", sans-serif' font-size="14.8" text-anchor="start" font-weight="bold" font-style="normal" fill="#000" stroke="#000" stroke-width="0.22" >e</text>
<text x="64.8" y="405.6" font-family='"Liberation Mono", monospace' font-size="11.3" text-anchor="start" font-weight="bold" font-style="italic" fill="#000" stroke="#000" stroke-width="0.22" >SARS−CoV−2</text>
<text x="63.9" y="431.7" font-family='"Liberation Mono", monospace' font-size="11.3" text-anchor="start" font-weight="bold" font-style="normal" fill="#000" stroke="#000" stroke-width="0.22" >SARS−CoV−2</text>
<text x="63.9" y="442.92" font-family='"Liberation Mono", monospace' font-size="11.3" text-anchor="start" font-weight="bold" font-style="normal" fill="#000" stroke="#000" stroke-width="0.22" >SARS−CoV</text>
<text x="63.9" y="454.14" font-family='"Liberation Mono", monospace' font-size="11.3" text-anchor="start" font-weight="bold" font-style="normal" fill="#000" stroke="#000" stroke-width="0.22" >MERS−CoV</text>
<text x="63.9" y="465.36" font-family='"Liberation Mono", monospace' font-size="11.3" text-anchor="start" font-weight="bold" font-style="normal" fill="#000" stroke="#000" stroke-width="0.22" >MHV</text>
<text x="63.9" y="476.58" font-family='"Liberation Mono", monospace' font-size="11.3" text-anchor="start" font-weight="bold" font-style="normal" fill="#000" stroke="#000" stroke-width="0.22" >HCoV−229E</text>
<text x="63.9" y="487.8" font-family='"Liberation Mono", monospace' font-size="11.3" text-anchor="start" font-weight="bold" font-style="normal" fill="#000" stroke="#000" stroke-width="0.22" >TGEV</text>
<text x="63.9" y="499.02" font-family='"Liberation Mono", monospace' font-size="11.3" text-anchor="start" font-weight="bold" font-style="normal" fill="#000" stroke="#000" stroke-width="0.22" >PEDV</text>
<text x="63.9" y="510.24" font-family='"Liberation Mono", monospace' font-size="11.3" text-anchor="start" font-weight="bold" font-style="normal" fill="#000" stroke="#000" stroke-width="0.22" >IBV</text>
<text x="63.9" y="521.46" font-family='"Liberation Mono", monospace' font-size="11.3" text-anchor="start" font-weight="bold" font-style="normal" fill="#000" stroke="#000" stroke-width="0.22" >PdCoV</text>
<text x="10.4" y="448.5" font-family='"Liberation Sans", sans-serif' font-size="11.4" text-anchor="start" font-weight="normal" font-style="normal" fill="#000" stroke="#000" stroke-width="0.22" ><tspan font-family='"Liberation Serif", serif'>β</tspan> genus</text>
<text x="10.4" y="488.3" font-family='"Liberation Sans", sans-serif' font-size="11.4" text-anchor="start" font-weight="normal" font-style="normal" fill="#000" stroke="#000" stroke-width="0.22" ><tspan font-family='"Liberation Serif", serif'>α</tspan> genus</text>
<text x="10.4" y="509.1" font-family='"Liberation Sans", sans-serif' font-size="11.4" text-anchor="start" font-weight="normal" font-style="normal" fill="#000" stroke="#000" stroke-width="0.22" ><tspan font-family='"Liberation Serif", serif'>γ</tspan> genus</text>
<text x="10.4" y="522" font-family='"Liberation Sans", sans-serif' font-size="11.4" text-anchor="start" font-weight="normal" font-style="normal" fill="#000" stroke="#000" stroke-width="0.22" ><tspan font-family='"Liberation Serif", serif'>δ</tspan> genus</text>
<path d="M57 425.8V464.8M57 471.7V499.7" stroke="#000" stroke-width="1.4"/>
<rect x="169.95" y="423.2" width="25.35" height="100.98" fill="#FF0000"/>
<rect x="203.75" y="423.2" width="16.9" height="100.98" fill="#FF0000"/>
<rect x="229.1" y="423.2" width="8.45" height="100.98" fill="#FF0000"/>
<rect x="144.6" y="423.2" width="16.9" height="100.98" fill="none" stroke="#5b5bff" stroke-width="0.9"/>
<rect x="169.95" y="423.2" width="50.7" height="100.98" fill="none" stroke="#5b5bff" stroke-width="0.9"/>
<rect x="229.1" y="423.2" width="25.35" height="100.98" fill="none" stroke="#5b5bff" stroke-width="0.9"/>
<text x="148.82" y="431.7" font-family='"Liberation Mono", monospace' font-size="11" text-anchor="middle" font-weight="normal" font-style="normal" fill="#FF0000"  stroke="#FF0000" stroke-width="0.45">A</text>
<text x="157.28" y="431.7" font-family='"Liberation Mono", monospace' font-size="11" text-anchor="middle" font-weight="normal" font-style="normal" fill="#FF0000"  stroke="#FF0000" stroke-width="0.45">K</text>
<text x="165.72" y="431.7" font-family='"Liberation Mono", monospace' font-size="11" text-anchor="middle" font-weight="normal" font-style="normal" fill="#000"  stroke="#000" stroke-width="0.45">P</text>
<text x="174.17" y="431.7" font-family='"Liberation Mono", monospace' font-size="11" text-anchor="middle" font-weight="bold" font-style="normal" fill="#fff"  stroke="none">P</text>
<text x="182.62" y="431.7" font-family='"Liberation Mono", monospace' font-size="11" text-anchor="middle" font-weight="bold" font-style="normal" fill="#fff"  stroke="none">P</text>
<text x="191.07" y="431.7" font-family='"Liberation Mono", monospace' font-size="11" text-anchor="middle" font-weight="bold" font-style="normal" fill="#fff"  stroke="none">G</text>
<text x="199.52" y="431.7" font-family='"Liberation Mono", monospace' font-size="11" text-anchor="middle" font-weight="normal" font-style="normal" fill="#FF0000"  stroke="#FF0000" stroke-width="0.45">D</text>
<text x="207.97" y="431.7" font-family='"Liberation Mono", monospace' font-size="11" text-anchor="middle" font-weight="bold" font-style="normal" fill="#fff"  stroke="none">Q</text>
<text x="216.42" y="431.7" font-family='"Liberation Mono", monospace' font-size="11" text-anchor="middle" font-weight="bold" font-style="normal" fill="#fff"  stroke="none">F</text>
<text x="224.88" y="431.7" font-family='"Liberation Mono", monospace' font-size="11" text-anchor="middle" font-weight="normal" font-style="normal" fill="#000"  stroke="#000" stroke-width="0.45">K</text>
<text x="233.32" y="431.7" font-family='"Liberation Mono", monospace' font-size="11" text-anchor="middle" font-weight="bold" font-style="normal" fill="#fff"  stroke="none">H</text>
<text x="241.77" y="431.7" font-family='"Liberation Mono", monospace' font-size="11" text-anchor="middle" font-weight="normal" font-style="normal" fill="#FF0000"  stroke="#FF0000" stroke-width="0.45">L</text>
<text x="250.22" y="431.7" font-family='"Liberation Mono", monospace' font-size="11" text-anchor="middle" font-weight="normal" font-style="normal" fill="#FF0000"  stroke="#FF0000" stroke-width="0.45">I</text>
<text x="148.82" y="442.92" font-family='"Liberation Mono", monospace' font-size="11" text-anchor="middle" font-weight="normal" font-style="normal" fill="#FF0000"  stroke="#FF0000" stroke-width="0.45">A</text>
<text x="157.28" y="442.92" font-family='"Liberation Mono", monospace' font-size="11" text-anchor="middle" font-weight="normal" font-style="normal" fill="#FF0000"  stroke="#FF0000" stroke-width="0.45">K</text>
<text x="165.72" y="442.92" font-family='"Liberation Mono", monospace' font-size="11" text-anchor="middle" font-weight="normal" font-style="normal" fill="#000"  stroke="#000" stroke-width="0.45">P</text>
<text x="174.17" y="442.92" font-family='"Liberation Mono", monospace' font-size="11" text-anchor="middle" font-weight="bold" font-style="normal" fill="#fff"  stroke="none">P</text>
<text x="182.62" y="442.92" font-family='"Liberation Mono", monospace' font-size="11" text-anchor="middle" font-weight="bold" font-style="normal" fill="#fff"  stroke="none">P</text>
<text x="191.07" y="442.92" font-family='"Liberation Mono", monospace' font-size="11" text-anchor="middle" font-weight="bold" font-style="normal" fill="#fff"  stroke="none">G</text>
<text x="199.52" y="442.92" font-family='"Liberation Mono", monospace' font-size="11" text-anchor="middle" font-weight="normal" font-style="normal" fill="#FF0000"  stroke="#FF0000" stroke-width="0.45">D</text>
<text x="207.97" y="442.92" font-family='"Liberation Mono", monospace' font-size="11" text-anchor="middle" font-weight="bold" font-style="normal" fill="#fff"  stroke="none">Q</text>
<text x="216.42" y="442.92" font-family='"Liberation Mono", monospace' font-size="11" text-anchor="middle" font-weight="bold" font-style="normal" fill="#fff"  stroke="none">F</text>
<text x="224.88" y="442.92" font-family='"Liberation Mono", monospace' font-size="11" text-anchor="middle" font-weight="normal" font-style="normal" fill="#000"  stroke="#000" stroke-width="0.45">K</text>
<text x="233.32" y="442.92" font-family='"Liberation Mono", monospace' font-size="11" text-anchor="middle" font-weight="bold" font-style="normal" fill="#fff"  stroke="none">H</text>
<text x="241.77" y="442.92" font-family='"Liberation Mono", monospace' font-size="11" text-anchor="middle" font-weight="normal" font-style="normal" fill="#FF0000"  stroke="#FF0000" stroke-width="0.45">L</text>
<text x="250.22" y="442.92" font-family='"Liberation Mono", monospace' font-size="11" text-anchor="middle" font-weight="normal" font-style="normal" fill="#FF0000"  stroke="#FF0000" stroke-width="0.45">I</text>
<text x="148.82" y="454.14" font-family='"Liberation Mono", monospace' font-size="11" text-anchor="middle" font-weight="normal" font-style="normal" fill="#FF0000"  stroke="#FF0000" stroke-width="0.45">A</text>
<text x="157.28" y="454.14" font-family='"Liberation Mono", monospace' font-size="11" text-anchor="middle" font-weight="normal" font-style="normal" fill="#FF0000"  stroke="#FF0000" stroke-width="0.45">R</text>
<text x="165.72" y="454.14" font-family='"Liberation Mono", monospace' font-size="11" text-anchor="middle" font-weight="normal" font-style="normal" fill="#000"  stroke="#000" stroke-width="0.45">P</text>
<text x="174.17" y="454.14" font-family='"Liberation Mono", monospace' font-size="11" text-anchor="middle" font-weight="bold" font-style="normal" fill="#fff"  stroke="none">P</text>
<text x="182.62" y="454.14" font-family='"Liberation Mono", monospace' font-size="11" text-anchor="middle" font-weight="bold" font-style="normal" fill="#fff"  stroke="none">P</text>
<text x="191.07" y="454.14" font-family='"Liberation Mono", monospace' font-size="11" text-anchor="middle" font-weight="bold" font-style="normal" fill="#fff"  stroke="none">G</text>
<text x="199.52" y="454.14" font-family='"Liberation Mono", monospace' font-size="11" text-anchor="middle" font-weight="normal" font-style="normal" fill="#FF0000"  stroke="#FF0000" stroke-width="0.45">E</text>
<text x="207.97" y="454.14" font-family='"Liberation Mono", monospace' font-size="11" text-anchor="middle" font-weight="bold" font-style="normal" fill="#fff"  stroke="none">Q</text>
<text x="216.42" y="454.14" font-family='"Liberation Mono", monospace' font-size="11" text-anchor="middle" font-weight="bold" font-style="normal" fill="#fff"  stroke="none">F</text>
<text x="224.88" y="454.14" font-family='"Liberation Mono", monospace' font-size="11" text-anchor="middle" font-weight="normal" font-style="normal" fill="#000"  stroke="#000" stroke-width="0.45">K</text>
<text x="233.32" y="454.14" font-family='"Liberation Mono", monospace' font-size="11" text-anchor="middle" font-weight="bold" font-style="normal" fill="#fff"  stroke="none">H</text>
<text x="241.77" y="454.14" font-family='"Liberation Mono", monospace' font-size="11" text-anchor="middle" font-weight="normal" font-style="normal" fill="#FF0000"  stroke="#FF0000" stroke-width="0.45">L</text>
<text x="250.22" y="454.14" font-family='"Liberation Mono", monospace' font-size="11" text-anchor="middle" font-weight="normal" font-style="normal" fill="#FF0000"  stroke="#FF0000" stroke-width="0.45">V</text>
<text x="148.82" y="465.36" font-family='"Liberation Mono", monospace' font-size="11" text-anchor="middle" font-weight="normal" font-style="normal" fill="#FF0000"  stroke="#FF0000" stroke-width="0.45">A</text>
<text x="157.28" y="465.36" font-family='"Liberation Mono", monospace' font-size="11" text-anchor="middle" font-weight="normal" font-style="normal" fill="#FF0000"  stroke="#FF0000" stroke-width="0.45">R</text>
<text x="165.72" y="465.36" font-family='"Liberation Mono", monospace' font-size="11" text-anchor="middle" font-weight="normal" font-style="normal" fill="#000"  stroke="#000" stroke-width="0.45">A</text>
<text x="174.17" y="465.36" font-family='"Liberation Mono", monospace' font-size="11" text-anchor="middle" font-weight="bold" font-style="normal" fill="#fff"  stroke="none">P</text>
<text x="182.62" y="465.36" font-family='"Liberation Mono", monospace' font-size="11" text-anchor="middle" font-weight="bold" font-style="normal" fill="#fff"  stroke="none">P</text>
<text x="191.07" y="465.36" font-family='"Liberation Mono", monospace' font-size="11" text-anchor="middle" font-weight="bold" font-style="normal" fill="#fff"  stroke="none">G</text>
<text x="199.52" y="465.36" font-family='"Liberation Mono", monospace' font-size="11" text-anchor="middle" font-weight="normal" font-style="normal" fill="#FF0000"  stroke="#FF0000" stroke-width="0.45">E</text>
<text x="207.97" y="465.36" font-family='"Liberation Mono", monospace' font-size="11" text-anchor="middle" font-weight="bold" font-style="normal" fill="#fff"  stroke="none">Q</text>
<text x="216.42" y="465.36" font-family='"Liberation Mono", monospace' font-size="11" text-anchor="middle" font-weight="bold" font-style="normal" fill="#fff"  stroke="none">F</text>
<text x="224.88" y="465.36" font-family='"Liberation Mono", monospace' font-size="11" text-anchor="middle" font-weight="normal" font-style="normal" fill="#000"  stroke="#000" stroke-width="0.45">K</text>
<text x="233.32" y="465.36" font-family='"Liberation Mono", monospace' font-size="11" text-anchor="middle" font-weight="bold" font-style="normal" fill="#fff"  stroke="none">H</text>
<text x="241.77" y="465.36" font-family='"Liberation Mono", monospace' font-size="11" text-anchor="middle" font-weight="normal" font-style="normal" fill="#FF0000"  stroke="#FF0000" stroke-width="0.45">L</text>
<text x="250.22" y="465.36" font-family='"Liberation Mono", monospace' font-size="11" text-anchor="middle" font-weight="normal" font-style="normal" fill="#FF0000"  stroke="#FF0000" stroke-width="0.45">I</text>
<text x="148.82" y="476.58" font-family='"Liberation Mono", monospace' font-size="11" text-anchor="middle" font-weight="normal" font-style="normal" fill="#FF0000"  stroke="#FF0000" stroke-width="0.45">A</text>
<text x="157.28" y="476.58" font-family='"Liberation Mono", monospace' font-size="11" text-anchor="middle" font-weight="normal" font-style="normal" fill="#FF0000"  stroke="#FF0000" stroke-width="0.45">R</text>
<text x="165.72" y="476.58" font-family='"Liberation Mono", monospace' font-size="11" text-anchor="middle" font-weight="normal" font-style="normal" fill="#000"  stroke="#000" stroke-width="0.45">A</text>
<text x="174.17" y="476.58" font-family='"Liberation Mono", monospace' font-size="11" text-anchor="middle" font-weight="bold" font-style="normal" fill="#fff"  stroke="none">P</text>
<text x="182.62" y="476.58" font-family='"Liberation Mono", monospace' font-size="11" text-anchor="middle" font-weight="bold" font-style="normal" fill="#fff"  stroke="none">P</text>
<text x="191.07" y="476.58" font-family='"Liberation Mono", monospace' font-size="11" text-anchor="middle" font-weight="bold" font-style="normal" fill="#fff"  stroke="none">G</text>
<text x="199.52" y="476.58" font-family='"Liberation Mono", monospace' font-size="11" text-anchor="middle" font-weight="normal" font-style="normal" fill="#FF0000"  stroke="#FF0000" stroke-width="0.45">E</text>
<text x="207.97" y="476.58" font-family='"Liberation Mono", monospace' font-size="11" text-anchor="middle" font-weight="bold" font-style="normal" fill="#fff"  stroke="none">Q</text>
<text x="216.42" y="476.58" font-family='"Liberation Mono", monospace' font-size="11" text-anchor="middle" font-weight="bold" font-style="normal" fill="#fff"  stroke="none">F</text>
<text x="224.88" y="476.58" font-family='"Liberation Mono", monospace' font-size="11" text-anchor="middle" font-weight="normal" font-style="normal" fill="#000"  stroke="#000" stroke-width="0.45">T</text>
<text x="233.32" y="476.58" font-family='"Liberation Mono", monospace' font-size="11" text-anchor="middle" font-weight="bold" font-style="normal" fill="#fff"  stroke="none">H</text>
<text x="241.77" y="476.58" font-family='"Liberation Mono", monospace' font-size="11" text-anchor="middle" font-weight="normal" font-style="normal" fill="#FF0000"  stroke="#FF0000" stroke-width="0.45">I</text>
<text x="250.22" y="476.58" font-family='"Liberation Mono", monospace' font-size="11" text-anchor="middle" font-weight="normal" font-style="normal" fill="#FF0000"  stroke="#FF0000" stroke-width="0.45">V</text>
<text x="148.82" y="487.8" font-family='"Liberation Mono", monospace' font-size="11" text-anchor="middle" font-weight="normal" font-style="normal" fill="#FF0000"  stroke="#FF0000" stroke-width="0.45">A</text>
<text x="157.28" y="487.8" font-family='"Liberation Mono", monospace' font-size="11" text-anchor="middle" font-weight="normal" font-style="normal" fill="#FF0000"  stroke="#FF0000" stroke-width="0.45">R</text>
<text x="165.72" y="487.8" font-family='"Liberation Mono", monospace' font-size="11" text-anchor="middle" font-weight="normal" font-style="normal" fill="#000"  stroke="#000" stroke-width="0.45">A</text>
<text x="174.17" y="487.8" font-family='"Liberation Mono", monospace' font-size="11" text-anchor="middle" font-weight="bold" font-style="normal" fill="#fff"  stroke="none">P</text>
<text x="182.62" y="487.8" font-family='"Liberation Mono", monospace' font-size="11" text-anchor="middle" font-weight="bold" font-style="normal" fill="#fff"  stroke="none">P</text>
<text x="191.07" y="487.8" font-family='"Liberation Mono", monospace' font-size="11" text-anchor="middle" font-weight="bold" font-style="normal" fill="#fff"  stroke="none">G</text>
<text x="199.52" y="487.8" font-family='"Liberation Mono", monospace' font-size="11" text-anchor="middle" font-weight="normal" font-style="normal" fill="#FF0000"  stroke="#FF0000" stroke-width="0.45">E</text>
<text x="207.97" y="487.8" font-family='"Liberation Mono", monospace' font-size="11" text-anchor="middle" font-weight="bold" font-style="normal" fill="#fff"  stroke="none">Q</text>
<text x="216.42" y="487.8" font-family='"Liberation Mono", monospace' font-size="11" text-anchor="middle" font-weight="bold" font-style="normal" fill="#fff"  stroke="none">F</text>
<text x="224.88" y="487.8" font-family='"Liberation Mono", monospace' font-size="11" text-anchor="middle" font-weight="normal" font-style="normal" fill="#000"  stroke="#000" stroke-width="0.45">A</text>
<text x="233.32" y="487.8" font-family='"Liberation Mono", monospace' font-size="11" text-anchor="middle" font-weight="bold" font-style="normal" fill="#fff"  stroke="none">H</text>
<text x="241.77" y="487.8" font-family='"Liberation Mono", monospace' font-size="11" text-anchor="middle" font-weight="normal" font-style="normal" fill="#FF0000"  stroke="#FF0000" stroke-width="0.45">L</text>
<text x="250.22" y="487.8" font-family='"Liberation Mono", monospace' font-size="11" text-anchor="middle" font-weight="normal" font-style="normal" fill="#FF0000"  stroke="#FF0000" stroke-width="0.45">I</text>
<text x="148.82" y="499.02" font-family='"Liberation Mono", monospace' font-size="11" text-anchor="middle" font-weight="normal" font-style="normal" fill="#FF0000"  stroke="#FF0000" stroke-width="0.45">A</text>
<text x="157.28" y="499.02" font-family='"Liberation Mono", monospace' font-size="11" text-anchor="middle" font-weight="normal" font-style="normal" fill="#FF0000"  stroke="#FF0000" stroke-width="0.45">R</text>
<text x="165.72" y="499.02" font-family='"Liberation Mono", monospace' font-size="11" text-anchor="middle" font-weight="normal" font-style="normal" fill="#000"  stroke="#000" stroke-width="0.45">A</text>
<text x="174.17" y="499.02" font-family='"Liberation Mono", monospace' font-size="11" text-anchor="middle" font-weight="bold" font-style="normal" fill="#fff"  stroke="none">P</text>
<text x="182.62" y="499.02" font-family='"Liberation Mono", monospace' font-size="11" text-anchor="middle" font-weight="bold" font-style="normal" fill="#fff"  stroke="none">P</text>
<text x="191.07" y="499.02" font-family='"Liberation Mono", monospace' font-size="11" text-anchor="middle" font-weight="bold" font-style="normal" fill="#fff"  stroke="none">G</text>
<text x="199.52" y="499.02" font-family='"Liberation Mono", monospace' font-size="11" text-anchor="middle" font-weight="normal" font-style="normal" fill="#FF0000"  stroke="#FF0000" stroke-width="0.45">E</text>
<text x="207.97" y="499.02" font-family='"Liberation Mono", monospace' font-size="11" text-anchor="middle" font-weight="bold" font-style="normal" fill="#fff"  stroke="none">Q</text>
<text x="216.42" y="499.02" font-family='"Liberation Mono", monospace' font-size="11" text-anchor="middle" font-weight="bold" font-style="normal" fill="#fff"  stroke="none">F</text>
<text x="224.88" y="499.02" font-family='"Liberation Mono", monospace' font-size="11" text-anchor="middle" font-weight="normal" font-style="normal" fill="#000"  stroke="#000" stroke-width="0.45">A</text>
<text x="233.32" y="499.02" font-family='"Liberation Mono", monospace' font-size="11" text-anchor="middle" font-weight="bold" font-style="normal" fill="#fff"  stroke="none">H</text>
<text x="241.77" y="499.02" font-family='"Liberation Mono", monospace' font-size="11" text-anchor="middle" font-weight="normal" font-style="normal" fill="#FF0000"  stroke="#FF0000" stroke-width="0.45">L</text>
<text x="250.22" y="499.02" font-family='"Liberation Mono", monospace' font-size="11" text-anchor="middle" font-weight="normal" font-style="normal" fill="#FF0000"  stroke="#FF0000" stroke-width="0.45">L</text>
<text x="148.82" y="510.24" font-family='"Liberation Mono", monospace' font-size="11" text-anchor="middle" font-weight="normal" font-style="normal" fill="#000"  stroke="#000" stroke-width="0.45">S</text>
<text x="157.28" y="510.24" font-family='"Liberation Mono", monospace' font-size="11" text-anchor="middle" font-weight="normal" font-style="normal" fill="#FF0000"  stroke="#FF0000" stroke-width="0.45">R</text>
<text x="165.72" y="510.24" font-family='"Liberation Mono", monospace' font-size="11" text-anchor="middle" font-weight="normal" font-style="normal" fill="#000"  stroke="#000" stroke-width="0.45">A</text>
<text x="174.17" y="510.24" font-family='"Liberation Mono", monospace' font-size="11" text-anchor="middle" font-weight="bold" font-style="normal" fill="#fff"  stroke="none">P</text>
<text x="182.62" y="510.24" font-family='"Liberation Mono", monospace' font-size="11" text-anchor="middle" font-weight="bold" font-style="normal" fill="#fff"  stroke="none">P</text>
<text x="191.07" y="510.24" font-family='"Liberation Mono", monospace' font-size="11" text-anchor="middle" font-weight="bold" font-style="normal" fill="#fff"  stroke="none">G</text>
<text x="199.52" y="510.24" font-family='"Liberation Mono", monospace' font-size="11" text-anchor="middle" font-weight="normal" font-style="normal" fill="#FF0000"  stroke="#FF0000" stroke-width="0.45">E</text>
<text x="207.97" y="510.24" font-family='"Liberation Mono", monospace' font-size="11" text-anchor="middle" font-weight="bold" font-style="normal" fill="#fff"  stroke="none">Q</text>
<text x="216.42" y="510.24" font-family='"Liberation Mono", monospace' font-size="11" text-anchor="middle" font-weight="bold" font-style="normal" fill="#fff"  stroke="none">F</text>
<text x="224.88" y="510.24" font-family='"Liberation Mono", monospace' font-size="11" text-anchor="middle" font-weight="normal" font-style="normal" fill="#000"  stroke="#000" stroke-width="0.45">N</text>
<text x="233.32" y="510.24" font-family='"Liberation Mono", monospace' font-size="11" text-anchor="middle" font-weight="bold" font-style="normal" fill="#fff"  stroke="none">H</text>
<text x="241.77" y="510.24" font-family='"Liberation Mono", monospace' font-size="11" text-anchor="middle" font-weight="normal" font-style="normal" fill="#FF0000"  stroke="#FF0000" stroke-width="0.45">L</text>
<text x="250.22" y="510.24" font-family='"Liberation Mono", monospace' font-size="11" text-anchor="middle" font-weight="normal" font-style="normal" fill="#000"  stroke="#000" stroke-width="0.45">R</text>
<text x="148.82" y="521.46" font-family='"Liberation Mono", monospace' font-size="11" text-anchor="middle" font-weight="normal" font-style="normal" fill="#FF0000"  stroke="#FF0000" stroke-width="0.45">A</text>
<text x="157.28" y="521.46" font-family='"Liberation Mono", monospace' font-size="11" text-anchor="middle" font-weight="normal" font-style="normal" fill="#FF0000"  stroke="#FF0000" stroke-width="0.45">R</text>
<text x="165.72" y="521.46" font-family='"Liberation Mono", monospace' font-size="11" text-anchor="middle" font-weight="normal" font-style="normal" fill="#000"  stroke="#000" stroke-width="0.45">I</text>
<text x="174.17" y="521.46" font-family='"Liberation Mono", monospace' font-size="11" text-anchor="middle" font-weight="bold" font-style="normal" fill="#fff"  stroke="none">P</text>
<text x="182.62" y="521.46" font-family='"Liberation Mono", monospace' font-size="11" text-anchor="middle" font-weight="bold" font-style="normal" fill="#fff"  stroke="none">P</text>
<text x="191.07" y="521.46" font-family='"Liberation Mono", monospace' font-size="11" text-anchor="middle" font-weight="bold" font-style="normal" fill="#fff"  stroke="none">G</text>
<text x="199.52" y="521.46" font-family='"Liberation Mono", monospace' font-size="11" text-anchor="middle" font-weight="normal" font-style="normal" fill="#FF0000"  stroke="#FF0000" stroke-width="0.45">E</text>
<text x="207.97" y="521.46" font-family='"Liberation Mono", monospace' font-size="11" text-anchor="middle" font-weight="bold" font-style="normal" fill="#fff"  stroke="none">Q</text>
<text x="216.42" y="521.46" font-family='"Liberation Mono", monospace' font-size="11" text-anchor="middle" font-weight="bold" font-style="normal" fill="#fff"  stroke="none">F</text>
<text x="224.88" y="521.46" font-family='"Liberation Mono", monospace' font-size="11" text-anchor="middle" font-weight="normal" font-style="normal" fill="#000"  stroke="#000" stroke-width="0.45">R</text>
<text x="233.32" y="521.46" font-family='"Liberation Mono", monospace' font-size="11" text-anchor="middle" font-weight="bold" font-style="normal" fill="#fff"  stroke="none">H</text>
<text x="241.77" y="521.46" font-family='"Liberation Mono", monospace' font-size="11" text-anchor="middle" font-weight="normal" font-style="normal" fill="#FF0000"  stroke="#FF0000" stroke-width="0.45">L</text>
<text x="250.22" y="521.46" font-family='"Liberation Mono", monospace' font-size="11" text-anchor="middle" font-weight="normal" font-style="normal" fill="#000"  stroke="#000" stroke-width="0.45">K</text>
<text x="145.3" y="394.8" font-family='"Liberation Serif", serif' font-size="11.6" text-anchor="start" font-weight="normal" font-style="normal" fill="#000" stroke="#000" stroke-width="0.22" >β9</text>
<text x="237.6" y="394.6" font-family='"Liberation Serif", serif' font-size="11.6" text-anchor="start" font-weight="normal" font-style="normal" fill="#000" stroke="#000" stroke-width="0.22" >η3</text>
<path d="M144.4 402H155.5" stroke="#000" stroke-width="2.4"/><path d="M154.5 398.8L161 402L154.5 405.2Z" fill="#000"/>
<path d="M220.6 406.4H254.7M222.7 406.4Q224.7 406.4 225.7 405.2M224.9 405.2Q225.9 406.4 227.9 406.4M225.7 405.2C227.9 403.6 227.7 400.2 225.3 400.2C222.9 400.2 222.7 403.6 224.9 405.2M231.05 406.4Q233.05 406.4 234.05 405.2M233.25 405.2Q234.25 406.4 236.25 406.4M234.05 405.2C236.25 403.6 236.05 400.2 233.65 400.2C231.25 400.2 231.05 403.6 233.25 405.2M239.4 406.4Q241.4 406.4 242.4 405.2M241.6 405.2Q242.6 406.4 244.6 406.4M242.4 405.2C244.6 403.6 244.4 400.2 242 400.2C239.6 400.2 239.4 403.6 241.6 405.2M247.75 406.4Q249.75 406.4 250.75 405.2M249.95 405.2Q250.95 406.4 252.95 406.4M250.75 405.2C252.95 403.6 252.75 400.2 250.35 400.2C247.95 400.2 247.75 403.6 249.95 405.2" fill="none" stroke="#000" stroke-width="0.7"/>
<text x="148.82" y="415.2" font-family='"Liberation Sans", sans-serif' font-size="8.5" text-anchor="middle" font-weight="bold" font-style="normal" fill="#000" stroke="#000" stroke-width="0.22" >1</text>
<text x="157.28" y="415.2" font-family='"Liberation Sans", sans-serif' font-size="8.5" text-anchor="middle" font-weight="bold" font-style="normal" fill="#000" stroke="#000" stroke-width="0.22" >4</text>
<text x="165.72" y="415.2" font-family='"Liberation Sans", sans-serif' font-size="8.5" text-anchor="middle" font-weight="bold" font-style="normal" fill="#000" stroke="#000" stroke-width="0.22" >0</text>
<text x="233.32" y="415.2" font-family='"Liberation Sans", sans-serif' font-size="8.5" text-anchor="middle" font-weight="bold" font-style="normal" fill="#000" stroke="#000" stroke-width="0.22" >1</text>
<text x="241.77" y="415.2" font-family='"Liberation Sans", sans-serif' font-size="8.5" text-anchor="middle" font-weight="bold" font-style="normal" fill="#000" stroke="#000" stroke-width="0.22" >5</text>
<text x="250.22" y="415.2" font-family='"Liberation Sans", sans-serif' font-size="8.5" text-anchor="middle" font-weight="bold" font-style="normal" fill="#000" stroke="#000" stroke-width="0.22" >0</text>
<circle cx="165.72" cy="418.8" r="0.55" fill="#000"/>
<circle cx="250.22" cy="418.8" r="0.55" fill="#000"/>
<circle cx="174.17" cy="530.6" r="3.7" fill="#6559C9"/>
<circle cx="207.97" cy="530.6" r="3.7" fill="#6559C9"/>
<circle cx="216.42" cy="530.6" r="3.7" fill="#6559C9"/>
<circle cx="233.32" cy="530.6" r="3.7" fill="#6559C9"/>
<text x="344.5" y="377.5" font-family='"Liberation Sans", sans-serif' font-size="14.8" text-anchor="start" font-weight="bold" font-style="normal" fill="#000" stroke="#000" stroke-width="0.22" >f</text>
<path d="M381.9 390.2V507.5H519.7" fill="none" stroke="#4a4a4a" stroke-width="1.3"/>
<text x="0" y="0" font-family='"Liberation Sans", sans-serif' font-size="10" text-anchor="end" font-weight="normal" font-style="normal" fill="#000" stroke="#000" stroke-width="0.22" transform="translate(378.4 509.8) scale(0.97 1.08)">0.0</text>
<text x="0" y="0" font-family='"Liberation Sans", sans-serif' font-size="10" text-anchor="end" font-weight="normal" font-style="normal" fill="#000" stroke="#000" stroke-width="0.22" transform="translate(378.4 480.78) scale(0.97 1.08)">1.5</text>
<text x="0" y="0" font-family='"Liberation Sans", sans-serif' font-size="10" text-anchor="end" font-weight="normal" font-style="normal" fill="#000" stroke="#000" stroke-width="0.22" transform="translate(378.4 451.75) scale(0.97 1.08)">3.0</text>
<text x="0" y="0" font-family='"Liberation Sans", sans-serif' font-size="10" text-anchor="end" font-weight="normal" font-style="normal" fill="#000" stroke="#000" stroke-width="0.22" transform="translate(378.4 422.73) scale(0.97 1.08)">4.5</text>
<text x="0" y="0" font-family='"Liberation Sans", sans-serif' font-size="10" text-anchor="end" font-weight="normal" font-style="normal" fill="#000" stroke="#000" stroke-width="0.22" transform="translate(378.4 393.7) scale(0.97 1.08)">6.0</text>
<path d="M378.9 506.3H381.9M378.9 477.28H381.9M378.9 448.25H381.9M378.9 419.23H381.9M378.9 390.2H381.9M399.1 507.5V510.5M424.95 507.5V510.5M450.8 507.5V510.5M476.65 507.5V510.5M502.5 507.5V510.5" fill="none" stroke="#4a4a4a" stroke-width="1.3"/>
<text x="401.7" y="518" font-family='"Liberation Sans", sans-serif' font-size="10" text-anchor="end" font-weight="normal" font-style="normal" fill="#000" stroke="#000" stroke-width="0.22" transform="rotate(-45 401.7 518)">WT</text>
<text x="427.55" y="518" font-family='"Liberation Sans", sans-serif' font-size="10" text-anchor="end" font-weight="normal" font-style="normal" fill="#000" stroke="#000" stroke-width="0.22" transform="rotate(-45 427.55 518)">P141A</text>
<text x="453.4" y="518" font-family='"Liberation Sans", sans-serif' font-size="10" text-anchor="end" font-weight="normal" font-style="normal" fill="#000" stroke="#000" stroke-width="0.22" transform="rotate(-45 453.4 518)">Q145A</text>
<text x="479.25" y="518" font-family='"Liberation Sans", sans-serif' font-size="10" text-anchor="end" font-weight="normal" font-style="normal" fill="#000" stroke="#000" stroke-width="0.22" transform="rotate(-45 479.25 518)">F146A</text>
<text x="505.1" y="518" font-family='"Liberation Sans", sans-serif' font-size="10" text-anchor="end" font-weight="normal" font-style="normal" fill="#000" stroke="#000" stroke-width="0.22" transform="rotate(-45 505.1 518)">H148A</text>
<text x="360.2" y="445" font-family='"Liberation Sans", sans-serif' font-size="10.1" text-anchor="middle" font-weight="normal" font-style="normal" fill="#000" stroke="#000" stroke-width="0.22" transform="rotate(-90 360.2 445)">Rate constant <tspan font-style="italic">k</tspan> (min<tspan font-size="6.5" dy="-3.6">−1</tspan><tspan dy="3.6">)</tspan></text>
<g stroke="#FFA200" fill="none" stroke-width="1"><path d="M390.4 415.12H407.8M399.1 400.65V426.58M394.7 400.65H403.5M394.7 426.58H403.5"/><circle cx="399.1" cy="415.12" r="2.6" fill="#fff" fill-opacity="0.3"/></g>
<g stroke="#1C8C1C" fill="none" stroke-width="1"><path d="M390.4 430.41H407.8M399.1 421.74V438.19M394.7 421.74H403.5M394.7 438.19H403.5"/><rect x="396.4" y="427.71" width="5.4" height="5.4"/></g>
<g stroke="#3F3391" fill="none" stroke-width="1"><path d="M390.4 460.96H407.8M399.1 458.51V463.34M394.7 458.51H403.5M394.7 463.34H403.5"/><path d="M399.1 458.06L402 463.16H396.2Z"/></g>
<g stroke="#B01C22" fill="none" stroke-width="1"><path d="M390.4 471.8H407.8M399.1 470.12V473.41M394.7 470.12H403.5M394.7 473.41H403.5"/><polygon points="398.05,474.34 396.56,472.85 396.56,470.75 398.05,469.26 400.15,469.26 401.64,470.75 401.64,472.85 400.15,474.34" stroke-width="1.15"/></g>
<g stroke="#FFA200" fill="none" stroke-width="1"><path d="M416.25 489.01H433.65M424.95 487.72V490.24M420.55 487.72H429.35M420.55 490.24H429.35"/><circle cx="424.95" cy="489.01" r="2.6" fill="#fff" fill-opacity="0.3"/></g>
<g stroke="#1C8C1C" fill="none" stroke-width="1"><path d="M416.25 464.79H433.65M424.95 460.63V468.95M420.55 460.63H429.35M420.55 468.95H429.35"/><rect x="422.25" y="462.09" width="5.4" height="5.4"/></g>
<g stroke="#3F3391" fill="none" stroke-width="1"><path d="M416.25 498.12H433.65M424.95 497.59V498.75M420.55 497.59H429.35M420.55 498.75H429.35"/><path d="M431.15 495.22L434.05 500.32H428.25Z"/></g>
<g stroke="#B01C22" fill="none" stroke-width="1"><path d="M416.25 498.66H433.65M424.95 497.98V499.33M420.55 497.98H429.35M420.55 499.33H429.35"/><polygon points="417.4,501.2 415.91,499.71 415.91,497.6 417.4,496.12 419.5,496.12 420.99,497.6 420.99,499.71 419.5,501.2" stroke-width="1.15"/></g>
<g stroke="#FFA200" fill="none" stroke-width="1"><path d="M442.1 452.95H459.5M450.8 448.25V456.96M446.4 448.25H455.2M446.4 456.96H455.2"/><circle cx="444.6" cy="452.95" r="2.6" fill="#fff" fill-opacity="0.3"/></g>
<g stroke="#1C8C1C" fill="none" stroke-width="1"><path d="M442.1 452.76H459.5M450.8 448.64V456.38M446.4 448.64H455.2M446.4 456.38H455.2"/><rect x="453.6" y="450.06" width="5.4" height="5.4"/></g>
<g stroke="#3F3391" fill="none" stroke-width="1"><path d="M442.1 474.74H459.5M450.8 472.05V477.28M446.4 472.05H455.2M446.4 477.28H455.2"/><path d="M450.8 471.84L453.7 476.94H447.9Z"/></g>
<g stroke="#B01C22" fill="none" stroke-width="1"><path d="M442.1 482.62H459.5M450.8 480.76V484.43M446.4 480.76H455.2M446.4 484.43H455.2"/><polygon points="449.75,485.16 448.26,483.67 448.26,481.56 449.75,480.07 451.85,480.07 453.34,481.56 453.34,483.67 451.85,485.16" stroke-width="1.15"/></g>
<g stroke="#FFA200" fill="none" stroke-width="1"><path d="M467.95 500.08H485.35M476.65 498.95V501.27M472.25 498.95H481.05M472.25 501.27H481.05"/><circle cx="476.65" cy="500.08" r="2.6" fill="#fff" fill-opacity="0.3"/></g>
<g stroke="#1C8C1C" fill="none" stroke-width="1"><path d="M467.95 487.73H485.35M476.65 485.01V490.43M472.25 485.01H481.05M472.25 490.43H481.05"/><rect x="473.95" y="485.03" width="5.4" height="5.4"/></g>
<g stroke="#3F3391" fill="none" stroke-width="1"><path d="M467.95 505.3H485.35M476.65 504.95V505.72M472.25 504.95H481.05M472.25 505.72H481.05"/><path d="M483.05 502.4L485.95 507.5H480.15Z"/></g>
<g stroke="#B01C22" fill="none" stroke-width="1"><path d="M467.95 505.59H485.35M476.65 505.33V505.91M472.25 505.33H481.05M472.25 505.91H481.05"/><polygon points="469.6,508.13 468.11,506.64 468.11,504.54 469.6,503.05 471.7,503.05 473.19,504.54 473.19,506.64 471.7,508.13" stroke-width="1.15"/></g>
<g stroke="#FFA200" fill="none" stroke-width="1"><path d="M493.8 500.89H511.2M502.5 500.3V501.46M498.1 500.3H506.9M498.1 501.46H506.9"/><circle cx="500.5" cy="500.89" r="2.6" fill="#fff" fill-opacity="0.3"/></g>
<g stroke="#1C8C1C" fill="none" stroke-width="1"><path d="M493.8 501.37H511.2M502.5 500.69V502.04M498.1 500.69H506.9M498.1 502.04H506.9"/><rect x="506.1" y="498.67" width="5.4" height="5.4"/></g>
<g stroke="#3F3391" fill="none" stroke-width="1"><path d="M493.8 503.21H511.2M502.5 502.82V503.59M498.1 502.82H506.9M498.1 503.59H506.9"/><path d="M504.5 500.31L507.4 505.41H501.6Z"/></g>
<g stroke="#B01C22" fill="none" stroke-width="1"><path d="M493.8 504.13H511.2M502.5 503.78V504.56M498.1 503.78H506.9M498.1 504.56H506.9"/><polygon points="495.55,506.67 494.06,505.19 494.06,503.08 495.55,501.59 497.65,501.59 499.14,503.08 499.14,505.19 497.65,506.67" stroke-width="1.15"/></g>
<circle cx="535.5" cy="406.3" r="2.6" fill="none" stroke="#FFA200" stroke-width="1.2"/>
<text x="542" y="409.5" font-family='"Liberation Sans", sans-serif' font-size="9.8" text-anchor="start" font-weight="normal" font-style="normal" fill="#000" stroke="#000" stroke-width="0.22" >T20P14-A</text>
<rect x="532.7" y="431.5" width="5.6" height="5.6" fill="none" stroke="#1C8C1C" stroke-width="1.2"/>
<text x="542" y="437.5" font-family='"Liberation Sans", sans-serif' font-size="9.8" text-anchor="start" font-weight="normal" font-style="normal" fill="#000" stroke="#000" stroke-width="0.22" >T20P14-U</text>
<path d="M535.5 459.4L538.3 464.5H532.7Z" fill="none" stroke="#3F3391" stroke-width="1.2"/>
<text x="542" y="465.5" font-family='"Liberation Sans", sans-serif' font-size="9.8" text-anchor="start" font-weight="normal" font-style="normal" fill="#000" stroke="#000" stroke-width="0.22" >T20P14-C</text>
<path d="M535.5 487.1L538.7 490.3L535.5 493.5L532.3 490.3Z" fill="none" stroke="#B01C22" stroke-width="1.2"/>
<text x="542" y="493.5" font-family='"Liberation Sans", sans-serif' font-size="9.8" text-anchor="start" font-weight="normal" font-style="normal" fill="#000" stroke="#000" stroke-width="0.22" >T20P14-G</text>
</svg></body></html>
